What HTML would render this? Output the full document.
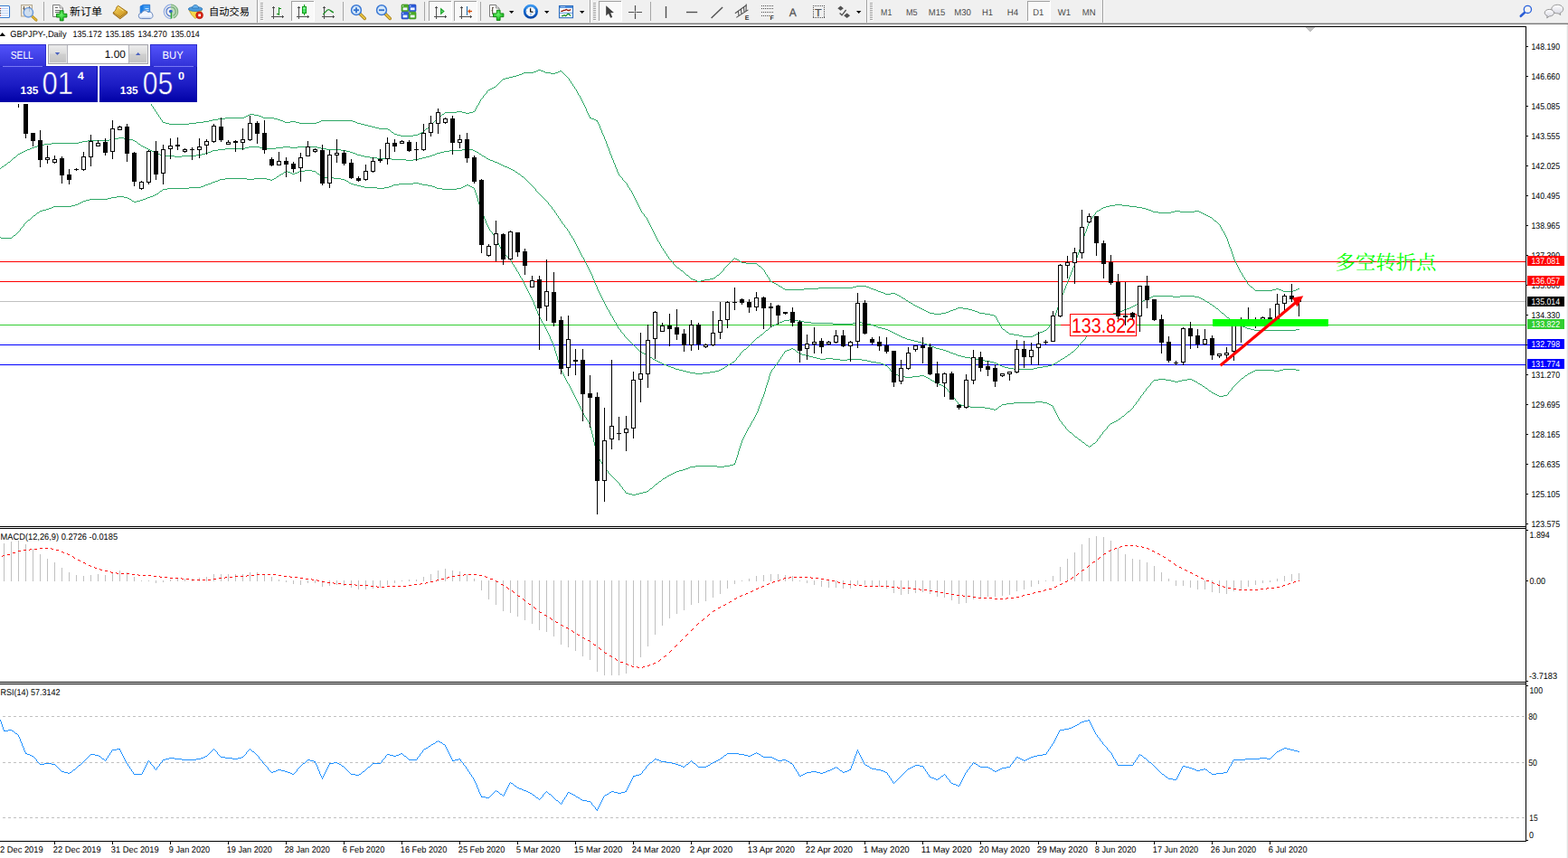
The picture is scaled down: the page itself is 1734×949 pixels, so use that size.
<!DOCTYPE html>
<html><head><meta charset="utf-8"><title>GBPJPY-,Daily</title>
<style>html,body{margin:0;padding:0;background:#fff;overflow:hidden}svg{display:block}text{font-family:"Liberation Sans",sans-serif;text-rendering:geometricPrecision}</style>
</head><body>
<svg width="1734" height="949" viewBox="0 0 1734 949"><g shape-rendering="crispEdges">
<rect x="0" y="29" width="1688" height="1" fill="#000"/>
<rect x="1687" y="29" width="1" height="902" fill="#000"/>
<rect x="0" y="582" width="1688" height="1" fill="#000"/>
<rect x="0" y="584" width="1688" height="1" fill="#000"/>
<rect x="0" y="754" width="1688" height="1" fill="#000"/>
<rect x="0" y="756" width="1688" height="1" fill="#000"/>
<rect x="0" y="930" width="1688" height="1" fill="#000"/>
<rect x="1733" y="27" width="1" height="922" fill="#e2e2e2"/>
<rect x="1732" y="27" width="1" height="922" fill="#f6f6f6"/>
<rect x="1688" y="51" width="2" height="1" fill="#000"/>
<rect x="1688" y="84" width="2" height="1" fill="#000"/>
<rect x="1688" y="117" width="2" height="1" fill="#000"/>
<rect x="1688" y="150" width="2" height="1" fill="#000"/>
<rect x="1688" y="183" width="2" height="1" fill="#000"/>
<rect x="1688" y="216" width="2" height="1" fill="#000"/>
<rect x="1688" y="249" width="2" height="1" fill="#000"/>
<rect x="1688" y="282" width="2" height="1" fill="#000"/>
<rect x="1688" y="315" width="2" height="1" fill="#000"/>
<rect x="1688" y="348" width="2" height="1" fill="#000"/>
<rect x="1688" y="381" width="2" height="1" fill="#000"/>
<rect x="1688" y="414" width="2" height="1" fill="#000"/>
<rect x="1688" y="447" width="2" height="1" fill="#000"/>
<rect x="1688" y="480" width="2" height="1" fill="#000"/>
<rect x="1688" y="513" width="2" height="1" fill="#000"/>
<rect x="1688" y="546" width="2" height="1" fill="#000"/>
<rect x="1688" y="579" width="2" height="1" fill="#000"/>
</g>
<g font-family="Liberation Sans, sans-serif" font-size="9.9">
<text x="1693.5" y="55.0" font-size="9.9" fill="#000" textLength="31.6" lengthAdjust="spacingAndGlyphs" >148.190</text>
<text x="1693.5" y="88.0" font-size="9.9" fill="#000" textLength="31.6" lengthAdjust="spacingAndGlyphs" >146.660</text>
<text x="1693.5" y="121.0" font-size="9.9" fill="#000" textLength="31.6" lengthAdjust="spacingAndGlyphs" >145.085</text>
<text x="1693.5" y="154.0" font-size="9.9" fill="#000" textLength="31.6" lengthAdjust="spacingAndGlyphs" >143.555</text>
<text x="1693.5" y="187.0" font-size="9.9" fill="#000" textLength="31.6" lengthAdjust="spacingAndGlyphs" >142.025</text>
<text x="1693.5" y="220.0" font-size="9.9" fill="#000" textLength="31.6" lengthAdjust="spacingAndGlyphs" >140.495</text>
<text x="1693.5" y="253.0" font-size="9.9" fill="#000" textLength="31.6" lengthAdjust="spacingAndGlyphs" >138.965</text>
<text x="1693.5" y="286.0" font-size="9.9" fill="#000" textLength="31.6" lengthAdjust="spacingAndGlyphs" >137.390</text>
<text x="1693.5" y="319.0" font-size="9.9" fill="#000" textLength="31.6" lengthAdjust="spacingAndGlyphs" >135.860</text>
<text x="1693.5" y="352.0" font-size="9.9" fill="#000" textLength="31.6" lengthAdjust="spacingAndGlyphs" >134.330</text>
<text x="1693.5" y="385.0" font-size="9.9" fill="#000" textLength="31.6" lengthAdjust="spacingAndGlyphs" >132.800</text>
<text x="1693.5" y="418.0" font-size="9.9" fill="#000" textLength="31.6" lengthAdjust="spacingAndGlyphs" >131.270</text>
<text x="1693.5" y="451.0" font-size="9.9" fill="#000" textLength="31.6" lengthAdjust="spacingAndGlyphs" >129.695</text>
<text x="1693.5" y="484.0" font-size="9.9" fill="#000" textLength="31.6" lengthAdjust="spacingAndGlyphs" >128.165</text>
<text x="1693.5" y="517.0" font-size="9.9" fill="#000" textLength="31.6" lengthAdjust="spacingAndGlyphs" >126.635</text>
<text x="1693.5" y="550.0" font-size="9.9" fill="#000" textLength="31.6" lengthAdjust="spacingAndGlyphs" >125.105</text>
<text x="1693.5" y="583.0" font-size="9.9" fill="#000" textLength="31.6" lengthAdjust="spacingAndGlyphs" >123.575</text>
</g>
<g shape-rendering="crispEdges">
<rect x="0" y="289" width="1687" height="1" fill="#ff0000"/>
<rect x="0" y="311" width="1687" height="1" fill="#ff0000"/>
<rect x="0" y="333" width="1687" height="1" fill="#c0c0c0"/>
<rect x="0" y="359" width="1687" height="1" fill="#32cd32"/>
<rect x="0" y="381" width="1687" height="1" fill="#0000ff"/>
<rect x="0" y="403" width="1687" height="1" fill="#0000ff"/>
</g>
<g shape-rendering="crispEdges">
<clipPath id="cm"><rect x="0" y="30" width="1687" height="552"/></clipPath>
<g clip-path="url(#cm)">
<path d="M0 108h1v2h-1zM1 107h1v1h-1zM2 105h1v2h-1zM3 103h1v2h-1zM4 102h1v1h-1zM5 100h1v2h-1zM6 99h1v1h-1zM7 97h1v2h-1zM8 96h1v1h-1zM9 94h1v2h-1zM10 93h1v1h-1zM11 91h1v2h-1zM12 90h1v1h-1zM13 89h2v1h-2zM15 88h1v1h-1zM16 87h1v1h-1zM17 86h2v1h-2zM19 85h1v1h-1zM20 84h5v1h-5zM25 85h8v1h-8zM33 86h6v1h-6zM39 87h4v1h-4zM43 88h14v1h-14zM57 89h24v1h-24zM81 90h8v1h-8zM89 91h8v1h-8zM97 90h24v1h-24zM121 89h8v1h-8zM129 88h16v1h-16zM145 87h4v1h-4zM149 88h1v2h-1zM150 90h1v2h-1zM151 92h1v2h-1zM152 94h1v2h-1zM153 96h1v2h-1zM154 98h1v2h-1zM155 100h1v2h-1zM156 102h1v1h-1zM157 103h1v1h-1zM158 104h1v1h-1zM159 105h1v1h-1zM160 106h1v2h-1zM161 108h1v1h-1zM162 109h1v1h-1zM163 110h1v1h-1zM164 111h1v1h-1zM165 112h1v2h-1zM166 114h1v1h-1zM167 115h1v2h-1zM168 117h1v1h-1zM169 118h1v2h-1zM170 120h1v1h-1zM171 121h1v2h-1zM172 123h1v1h-1zM173 124h1v2h-1zM174 126h1v1h-1zM175 127h1v2h-1zM176 129h1v1h-1zM177 130h1v2h-1zM178 132h1v1h-1zM179 133h1v2h-1zM180 135h3v1h-3zM183 136h4v1h-4zM187 137h22v1h-22zM209 136h8v1h-8zM217 135h8v1h-8zM225 134h6v1h-6zM231 133h4v1h-4zM235 132h6v1h-6zM241 131h8v1h-8zM249 130h21v1h-21zM270 129h2v1h-2zM272 128h2v1h-2zM274 127h2v1h-2zM276 126h5v1h-5zM281 127h5v1h-5zM286 128h3v1h-3zM289 129h2v1h-2zM291 130h12v1h-12zM303 131h4v1h-4zM307 132h3v1h-3zM310 133h3v1h-3zM313 134h2v1h-2zM315 135h6v1h-6zM321 134h6v1h-6zM327 135h4v1h-4zM331 136h19v1h-19zM350 135h3v1h-3zM353 134h2v1h-2zM355 133h35v1h-35zM390 134h3v1h-3zM393 135h2v1h-2zM395 136h4v1h-4zM399 137h4v1h-4zM403 138h4v1h-4zM407 139h4v1h-4zM411 140h4v1h-4zM415 141h4v1h-4zM419 142h10v1h-10zM429 143h2v1h-2zM431 144h1v1h-1zM432 145h1v1h-1zM433 146h2v1h-2zM435 147h1v1h-1zM436 148h3v1h-3zM439 149h4v1h-4zM443 150h14v1h-14zM457 149h5v1h-5zM462 148h2v1h-2zM464 147h2v1h-2zM466 146h2v1h-2zM468 145h1v1h-1zM469 144h1v1h-1zM470 143h1v1h-1zM471 142h2v1h-2zM473 141h1v1h-1zM474 140h1v1h-1zM475 139h1v1h-1zM476 138h1v1h-1zM477 137h1v1h-1zM478 136h1v1h-1zM479 135h1v1h-1zM480 134h1v1h-1zM481 133h1v1h-1zM482 132h1v1h-1zM483 131h1v1h-1zM484 130h1v1h-1zM485 129h2v1h-2zM487 128h1v1h-1zM488 127h1v1h-1zM489 126h2v1h-2zM491 125h1v1h-1zM492 124h13v1h-13zM505 123h6v1h-6zM511 124h4v1h-4zM515 125h4v1h-4zM519 124h4v1h-4zM523 123h2v1h-2zM525 121h1v2h-1zM526 119h1v2h-1zM527 117h1v2h-1zM528 116h1v1h-1zM529 114h1v2h-1zM530 112h1v2h-1zM531 110h1v2h-1zM532 109h1v1h-1zM533 108h1v1h-1zM534 106h1v2h-1zM535 105h1v1h-1zM536 104h1v1h-1zM537 103h1v1h-1zM538 101h1v2h-1zM539 100h1v1h-1zM540 99h2v1h-2zM542 98h2v1h-2zM544 97h2v1h-2zM546 96h2v1h-2zM548 95h1v1h-1zM549 94h1v1h-1zM550 93h1v1h-1zM551 92h1v1h-1zM552 91h1v1h-1zM553 90h1v1h-1zM554 89h1v1h-1zM555 88h1v1h-1zM556 87h3v1h-3zM559 86h4v1h-4zM563 85h4v1h-4zM567 84h4v1h-4zM571 83h3v1h-3zM574 82h3v1h-3zM577 81h2v1h-2zM579 80h11v1h-11zM590 79h3v1h-3zM593 78h2v1h-2zM595 77h3v1h-3zM598 78h3v1h-3zM601 79h2v1h-2zM603 80h6v1h-6zM609 81h5v1h-5zM614 80h3v1h-3zM617 79h2v1h-2zM619 78h2v1h-2zM621 79h1v1h-1zM622 80h1v1h-1zM623 81h1v1h-1zM624 82h1v1h-1zM625 83h1v1h-1zM626 84h1v1h-1zM627 85h1v1h-1zM628 86h1v1h-1zM629 87h1v2h-1zM630 89h1v1h-1zM631 90h1v2h-1zM632 92h1v1h-1zM633 93h1v2h-1zM634 95h1v1h-1zM635 96h1v2h-1zM636 98h1v1h-1zM637 99h1v2h-1zM638 101h1v2h-1zM639 103h1v2h-1zM640 105h1v1h-1zM641 106h1v2h-1zM642 108h1v2h-1zM643 110h1v2h-1zM644 112h1v2h-1zM645 114h1v2h-1zM646 116h1v2h-1zM647 118h1v2h-1zM648 120h1v3h-1zM649 123h1v2h-1zM650 125h1v2h-1zM651 127h1v2h-1zM652 129h1v2h-1zM653 130h1v1h-1zM654 131h3v1h-3zM657 132h2v1h-2zM659 133h2v1h-2zM660 134h1v1h-1zM661 135h1v2h-1zM662 137h1v2h-1zM663 139h1v3h-1zM664 142h1v2h-1zM665 144h1v3h-1zM666 147h1v2h-1zM667 149h1v2h-1zM668 151h1v3h-1zM669 154h1v2h-1zM670 156h1v3h-1zM671 159h1v3h-1zM672 162h1v2h-1zM673 164h1v3h-1zM674 167h1v3h-1zM675 170h1v2h-1zM676 172h1v3h-1zM677 175h1v2h-1zM678 177h1v3h-1zM679 180h1v2h-1zM680 182h1v3h-1zM681 185h1v2h-1zM682 187h1v3h-1zM683 190h1v2h-1zM684 192h1v2h-1zM685 194h1v1h-1zM686 195h1v1h-1zM687 196h1v1h-1zM688 197h1v2h-1zM689 199h1v1h-1zM690 200h1v1h-1zM691 201h1v1h-1zM692 202h1v1h-1zM693 203h1v2h-1zM694 205h1v2h-1zM695 207h1v1h-1zM696 208h1v2h-1zM697 210h1v1h-1zM698 211h1v2h-1zM699 213h1v2h-1zM700 215h1v2h-1zM701 217h1v2h-1zM702 219h1v2h-1zM703 221h1v2h-1zM704 223h1v2h-1zM705 225h1v2h-1zM706 227h1v2h-1zM707 229h1v2h-1zM708 231h1v2h-1zM709 233h1v2h-1zM710 235h1v1h-1zM711 236h1v1h-1zM712 237h1v2h-1zM713 239h1v1h-1zM714 240h1v1h-1zM715 241h1v2h-1zM716 243h1v2h-1zM717 245h1v2h-1zM718 247h1v2h-1zM719 249h1v2h-1zM720 251h1v2h-1zM721 253h1v2h-1zM722 255h1v2h-1zM723 257h1v2h-1zM724 259h1v2h-1zM725 261h1v2h-1zM726 263h1v2h-1zM727 265h1v2h-1zM728 267h1v1h-1zM729 268h1v2h-1zM730 270h1v2h-1zM731 272h1v2h-1zM732 274h1v1h-1zM733 275h1v2h-1zM734 277h1v1h-1zM735 278h1v2h-1zM736 280h1v1h-1zM737 281h1v2h-1zM738 283h1v1h-1zM739 284h1v2h-1zM740 286h1v1h-1zM741 287h1v1h-1zM742 288h1v1h-1zM743 289h1v1h-1zM744 290h1v2h-1zM745 292h1v1h-1zM746 293h1v1h-1zM747 294h1v1h-1zM748 295h1v1h-1zM749 296h2v1h-2zM751 297h1v1h-1zM752 298h1v1h-1zM753 299h2v1h-2zM755 300h1v1h-1zM756 301h1v1h-1zM757 302h1v1h-1zM758 303h1v1h-1zM759 304h2v1h-2zM761 305h1v1h-1zM762 306h1v1h-1zM763 307h1v1h-1zM764 308h2v1h-2zM766 309h3v1h-3zM769 310h2v1h-2zM771 311h4v1h-4zM775 310h4v1h-4zM779 309h6v1h-6zM785 308h4v1h-4zM789 307h2v1h-2zM791 306h1v1h-1zM792 305h1v1h-1zM793 304h2v1h-2zM795 303h1v1h-1zM796 302h1v1h-1zM797 301h1v1h-1zM798 300h1v1h-1zM799 299h1v1h-1zM800 297h1v2h-1zM801 296h1v1h-1zM802 295h1v1h-1zM803 294h1v1h-1zM804 293h1v1h-1zM805 292h1v1h-1zM806 291h1v1h-1zM807 290h1v1h-1zM808 289h1v1h-1zM809 288h1v1h-1zM810 287h1v1h-1zM811 286h1v1h-1zM812 285h1v1h-1zM813 286h2v1h-2zM815 287h2v1h-2zM817 288h1v1h-1zM818 289h2v1h-2zM820 290h5v1h-5zM825 291h12v1h-12zM837 292h1v1h-1zM838 293h1v1h-1zM839 294h2v1h-2zM841 295h1v1h-1zM842 296h1v1h-1zM843 297h1v1h-1zM844 298h1v1h-1zM845 299h1v2h-1zM846 301h1v2h-1zM847 303h1v1h-1zM848 304h1v2h-1zM849 306h1v1h-1zM850 307h1v2h-1zM851 309h1v2h-1zM852 311h2v1h-2zM854 312h2v1h-2zM856 313h2v1h-2zM858 314h2v1h-2zM860 315h1v1h-1zM861 316h2v1h-2zM863 317h2v1h-2zM865 318h1v1h-1zM866 319h2v1h-2zM868 320h21v1h-21zM889 319h16v1h-16zM905 318h38v1h-38zM943 317h4v1h-4zM947 316h11v1h-11zM958 317h3v1h-3zM961 318h2v1h-2zM963 319h3v1h-3zM966 320h3v1h-3zM969 321h2v1h-2zM971 322h3v1h-3zM974 323h3v1h-3zM977 324h2v1h-2zM979 325h6v1h-6zM985 324h5v1h-5zM990 325h2v1h-2zM992 326h2v1h-2zM994 327h2v1h-2zM996 328h1v1h-1zM997 329h2v1h-2zM999 330h2v1h-2zM1001 331h1v1h-1zM1002 332h2v1h-2zM1004 333h1v1h-1zM1005 334h2v1h-2zM1007 335h2v1h-2zM1009 336h1v1h-1zM1010 337h2v1h-2zM1012 338h2v1h-2zM1014 339h2v1h-2zM1016 340h2v1h-2zM1018 341h2v1h-2zM1020 342h2v1h-2zM1022 343h2v1h-2zM1024 344h2v1h-2zM1026 345h2v1h-2zM1028 346h5v1h-5zM1033 347h8v1h-8zM1041 346h5v1h-5zM1046 345h3v1h-3zM1049 344h2v1h-2zM1051 343h3v1h-3zM1054 342h3v1h-3zM1057 341h2v1h-2zM1059 340h6v1h-6zM1065 341h6v1h-6zM1071 342h4v1h-4zM1075 343h3v1h-3zM1078 344h3v1h-3zM1081 345h2v1h-2zM1083 346h6v1h-6zM1089 347h6v1h-6zM1095 348h4v1h-4zM1099 349h2v1h-2zM1101 350h1v2h-1zM1102 352h1v2h-1zM1103 354h1v2h-1zM1104 356h1v1h-1zM1105 357h1v2h-1zM1106 359h1v2h-1zM1107 361h1v2h-1zM1108 363h1v1h-1zM1109 364h2v1h-2zM1111 365h1v1h-1zM1112 366h1v1h-1zM1113 367h2v1h-2zM1115 368h1v1h-1zM1116 369h5v1h-5zM1121 370h6v1h-6zM1127 371h4v1h-4zM1131 372h11v1h-11zM1142 371h2v1h-2zM1144 370h2v1h-2zM1146 369h2v1h-2zM1148 368h2v1h-2zM1150 367h3v1h-3zM1153 366h2v1h-2zM1155 365h2v1h-2zM1157 364h1v1h-1zM1158 363h1v1h-1zM1159 362h1v1h-1zM1160 360h1v2h-1zM1161 359h1v1h-1zM1162 358h1v1h-1zM1163 357h1v1h-1zM1164 355h1v2h-1zM1165 352h1v3h-1zM1166 349h1v3h-1zM1167 346h1v3h-1zM1168 343h1v3h-1zM1169 340h1v3h-1zM1170 337h1v3h-1zM1171 334h1v3h-1zM1172 331h1v3h-1zM1173 329h1v2h-1zM1174 326h1v3h-1zM1175 324h1v2h-1zM1176 321h1v3h-1zM1177 319h1v2h-1zM1178 316h1v3h-1zM1179 314h1v2h-1zM1180 311h1v3h-1zM1181 309h1v2h-1zM1182 306h1v3h-1zM1183 304h1v2h-1zM1184 301h1v3h-1zM1185 299h1v2h-1zM1186 296h1v3h-1zM1187 294h1v2h-1zM1188 291h1v3h-1zM1189 288h1v3h-1zM1190 285h1v3h-1zM1191 282h1v3h-1zM1192 279h1v3h-1zM1193 276h1v3h-1zM1194 273h1v3h-1zM1195 270h1v3h-1zM1196 267h1v3h-1zM1197 264h1v3h-1zM1198 261h1v3h-1zM1199 258h1v3h-1zM1200 256h1v2h-1zM1201 253h1v3h-1zM1202 250h1v3h-1zM1203 247h1v3h-1zM1204 245h1v2h-1zM1205 243h1v2h-1zM1206 242h1v1h-1zM1207 241h1v1h-1zM1208 239h1v2h-1zM1209 238h1v1h-1zM1210 237h1v1h-1zM1211 235h1v2h-1zM1212 234h1v1h-1zM1213 233h2v1h-2zM1215 232h2v1h-2zM1217 231h1v1h-1zM1218 230h2v1h-2zM1220 229h3v1h-3zM1223 228h4v1h-4zM1227 227h6v1h-6zM1233 226h8v1h-8zM1241 227h8v1h-8zM1249 228h8v1h-8zM1257 229h6v1h-6zM1263 230h4v1h-4zM1267 231h3v1h-3zM1270 232h3v1h-3zM1273 233h2v1h-2zM1275 234h6v1h-6zM1281 235h14v1h-14zM1295 234h4v1h-4zM1299 233h6v1h-6zM1305 234h16v1h-16zM1321 233h5v1h-5zM1326 234h2v1h-2zM1328 235h2v1h-2zM1330 236h2v1h-2zM1332 237h2v1h-2zM1334 238h2v1h-2zM1336 239h2v1h-2zM1338 240h2v1h-2zM1340 241h1v1h-1zM1341 242h1v1h-1zM1342 243h1v1h-1zM1343 244h2v1h-2zM1345 245h1v1h-1zM1346 246h1v1h-1zM1347 247h1v1h-1zM1348 248h1v1h-1zM1349 249h1v2h-1zM1350 251h1v2h-1zM1351 253h1v2h-1zM1352 255h1v1h-1zM1353 256h1v2h-1zM1354 258h1v2h-1zM1355 260h1v2h-1zM1356 262h1v2h-1zM1357 264h1v3h-1zM1358 267h1v3h-1zM1359 270h1v3h-1zM1360 273h1v2h-1zM1361 275h1v3h-1zM1362 278h1v3h-1zM1363 281h1v3h-1zM1364 284h1v3h-1zM1365 287h1v2h-1zM1366 289h1v2h-1zM1367 291h1v2h-1zM1368 293h1v2h-1zM1369 295h1v2h-1zM1370 297h1v2h-1zM1371 299h1v2h-1zM1372 301h1v1h-1zM1373 302h1v2h-1zM1374 304h1v2h-1zM1375 306h1v1h-1zM1376 307h1v2h-1zM1377 309h1v1h-1zM1378 310h1v2h-1zM1379 312h1v2h-1zM1380 314h1v1h-1zM1381 315h1v1h-1zM1382 316h1v1h-1zM1383 317h2v1h-2zM1385 318h1v1h-1zM1386 319h1v1h-1zM1387 320h1v1h-1zM1388 321h19v1h-19zM1407 320h4v1h-4zM1411 319h3v1h-3zM1414 320h3v1h-3zM1417 321h2v1h-2zM1419 322h11v1h-11zM1430 321h3v1h-3zM1433 320h2v1h-2zM1435 319h2v1h-2zM0 186h1v1h-1zM1 185h1v1h-1zM2 184h2v1h-2zM4 183h1v1h-1zM5 182h2v1h-2zM7 181h1v1h-1zM8 180h1v1h-1zM9 179h2v1h-2zM11 178h1v1h-1zM12 177h1v1h-1zM13 176h1v1h-1zM14 175h1v1h-1zM15 174h2v1h-2zM17 173h1v1h-1zM18 172h1v1h-1zM19 171h1v1h-1zM20 170h2v1h-2zM22 169h2v1h-2zM24 168h2v1h-2zM26 167h2v1h-2zM28 166h2v1h-2zM30 165h3v1h-3zM33 164h2v1h-2zM35 163h3v1h-3zM38 162h3v1h-3zM41 161h2v1h-2zM43 160h6v1h-6zM49 159h8v1h-8zM57 158h30v1h-30zM87 157h4v1h-4zM91 156h6v1h-6zM97 155h24v1h-24zM121 154h6v1h-6zM127 153h4v1h-4zM131 152h6v1h-6zM137 153h6v1h-6zM143 154h4v1h-4zM147 155h2v1h-2zM149 156h2v1h-2zM151 157h1v1h-1zM152 158h1v1h-1zM153 159h2v1h-2zM155 160h1v1h-1zM156 161h2v1h-2zM158 162h2v1h-2zM160 163h2v1h-2zM162 164h2v1h-2zM164 165h2v1h-2zM166 166h2v1h-2zM168 167h2v1h-2zM170 168h2v1h-2zM172 169h2v1h-2zM174 170h3v1h-3zM177 171h2v1h-2zM179 172h14v1h-14zM193 173h8v1h-8zM201 172h16v1h-16zM217 171h6v1h-6zM223 170h4v1h-4zM227 169h3v1h-3zM230 168h3v1h-3zM233 167h2v1h-2zM235 166h6v1h-6zM241 165h8v1h-8zM249 164h22v1h-22zM271 163h4v1h-4zM275 162h12v1h-12zM287 163h4v1h-4zM291 164h14v1h-14zM305 163h8v1h-8zM313 162h8v1h-8zM321 163h8v1h-8zM329 162h22v1h-22zM351 163h4v1h-4zM355 164h6v1h-6zM361 165h16v1h-16zM377 166h6v1h-6zM383 167h4v1h-4zM387 168h3v1h-3zM390 169h3v1h-3zM393 170h2v1h-2zM395 171h4v1h-4zM399 172h4v1h-4zM403 173h6v1h-6zM409 174h8v1h-8zM417 175h16v1h-16zM433 176h16v1h-16zM449 177h8v1h-8zM457 176h6v1h-6zM463 175h4v1h-4zM467 174h4v1h-4zM471 173h4v1h-4zM475 172h3v1h-3zM478 171h3v1h-3zM481 170h2v1h-2zM483 169h4v1h-4zM487 168h4v1h-4zM491 167h6v1h-6zM497 166h14v1h-14zM511 165h4v1h-4zM515 164h4v1h-4zM519 165h4v1h-4zM523 166h2v1h-2zM525 167h2v1h-2zM527 168h2v1h-2zM529 169h1v1h-1zM530 170h2v1h-2zM532 171h1v1h-1zM533 172h2v1h-2zM535 173h2v1h-2zM537 174h1v1h-1zM538 175h2v1h-2zM540 176h2v1h-2zM542 177h3v1h-3zM545 178h2v1h-2zM547 179h3v1h-3zM550 180h2v1h-2zM552 181h2v1h-2zM554 182h2v1h-2zM556 183h2v1h-2zM558 184h3v1h-3zM561 185h2v1h-2zM563 186h2v1h-2zM565 187h2v1h-2zM567 188h2v1h-2zM569 189h1v1h-1zM570 190h2v1h-2zM572 191h1v1h-1zM573 192h2v1h-2zM575 193h1v1h-1zM576 194h1v1h-1zM577 195h2v1h-2zM579 196h1v1h-1zM580 197h1v1h-1zM581 198h1v1h-1zM582 199h1v1h-1zM583 200h1v1h-1zM584 201h1v1h-1zM585 202h1v1h-1zM586 203h1v1h-1zM587 204h1v1h-1zM588 205h1v1h-1zM589 206h1v1h-1zM590 207h1v1h-1zM591 208h1v1h-1zM592 209h1v2h-1zM593 211h1v1h-1zM594 212h1v1h-1zM595 213h1v1h-1zM596 214h1v1h-1zM597 215h1v1h-1zM598 216h1v1h-1zM599 217h1v1h-1zM600 218h1v1h-1zM601 219h1v1h-1zM602 220h1v1h-1zM603 221h1v1h-1zM604 222h1v1h-1zM605 223h1v1h-1zM606 224h1v2h-1zM607 226h1v1h-1zM608 227h1v1h-1zM609 228h1v1h-1zM610 229h1v2h-1zM611 231h1v1h-1zM612 232h1v1h-1zM613 233h1v2h-1zM614 235h1v1h-1zM615 236h1v2h-1zM616 238h1v1h-1zM617 239h1v2h-1zM618 241h1v1h-1zM619 242h1v2h-1zM620 244h1v1h-1zM621 245h1v2h-1zM622 247h1v1h-1zM623 248h1v1h-1zM624 249h1v2h-1zM625 251h1v1h-1zM626 252h1v1h-1zM627 253h1v2h-1zM628 255h1v1h-1zM629 256h1v2h-1zM630 258h1v2h-1zM631 260h1v1h-1zM632 261h1v2h-1zM633 263h1v1h-1zM634 264h1v2h-1zM635 266h1v2h-1zM636 268h1v2h-1zM637 270h1v2h-1zM638 272h1v2h-1zM639 274h1v2h-1zM640 276h1v2h-1zM641 278h1v2h-1zM642 280h1v2h-1zM643 282h1v2h-1zM644 284h1v1h-1zM645 285h1v2h-1zM646 287h1v2h-1zM647 289h1v2h-1zM648 291h1v2h-1zM649 293h1v2h-1zM650 295h1v2h-1zM651 297h1v2h-1zM652 299h1v2h-1zM653 301h1v2h-1zM654 303h1v2h-1zM655 305h1v3h-1zM656 308h1v2h-1zM657 310h1v3h-1zM658 313h1v2h-1zM659 315h1v2h-1zM660 317h1v3h-1zM661 320h1v2h-1zM662 322h1v2h-1zM663 324h1v2h-1zM664 326h1v2h-1zM665 328h1v2h-1zM666 330h1v2h-1zM667 332h1v2h-1zM668 334h1v2h-1zM669 336h1v2h-1zM670 338h1v2h-1zM671 340h1v2h-1zM672 342h1v1h-1zM673 343h1v2h-1zM674 345h1v2h-1zM675 347h1v2h-1zM676 349h1v1h-1zM677 350h1v2h-1zM678 352h1v2h-1zM679 354h1v2h-1zM680 356h1v1h-1zM681 357h1v2h-1zM682 359h1v2h-1zM683 361h1v2h-1zM684 363h1v1h-1zM685 364h1v1h-1zM686 365h1v2h-1zM687 367h1v1h-1zM688 368h1v1h-1zM689 369h1v1h-1zM690 370h1v2h-1zM691 372h1v1h-1zM692 373h1v1h-1zM693 374h1v1h-1zM694 375h1v1h-1zM695 376h1v1h-1zM696 377h1v1h-1zM697 378h1v1h-1zM698 379h1v1h-1zM699 380h1v1h-1zM700 381h1v1h-1zM701 382h1v1h-1zM702 383h1v1h-1zM703 384h1v1h-1zM704 385h1v1h-1zM705 386h1v1h-1zM706 387h1v1h-1zM707 388h1v1h-1zM708 389h2v1h-2zM710 390h2v1h-2zM712 391h2v1h-2zM714 392h2v1h-2zM716 393h1v1h-1zM717 394h2v1h-2zM719 395h2v1h-2zM721 396h1v1h-1zM722 397h2v1h-2zM724 398h2v1h-2zM726 399h2v1h-2zM728 400h2v1h-2zM730 401h2v1h-2zM732 402h2v1h-2zM734 403h3v1h-3zM737 404h2v1h-2zM739 405h3v1h-3zM742 406h3v1h-3zM745 407h2v1h-2zM747 408h4v1h-4zM751 409h4v1h-4zM755 410h4v1h-4zM759 411h4v1h-4zM763 412h6v1h-6zM769 413h8v1h-8zM777 412h8v1h-8zM785 411h6v1h-6zM791 410h4v1h-4zM795 409h2v1h-2zM797 408h2v1h-2zM799 407h2v1h-2zM801 406h1v1h-1zM802 405h2v1h-2zM804 404h1v1h-1zM805 403h2v1h-2zM807 402h2v1h-2zM809 401h1v1h-1zM810 400h2v1h-2zM812 399h1v1h-1zM813 398h1v1h-1zM814 396h1v2h-1zM815 395h1v1h-1zM816 394h1v1h-1zM817 393h1v1h-1zM818 391h1v2h-1zM819 390h1v1h-1zM820 389h1v1h-1zM821 388h1v1h-1zM822 387h1v1h-1zM823 386h2v1h-2zM825 385h1v1h-1zM826 384h1v1h-1zM827 383h1v1h-1zM828 382h1v1h-1zM829 381h1v1h-1zM830 380h1v1h-1zM831 379h1v1h-1zM832 378h1v1h-1zM833 377h1v1h-1zM834 376h1v1h-1zM835 375h1v1h-1zM836 374h1v1h-1zM837 373h2v1h-2zM839 372h1v1h-1zM840 371h1v1h-1zM841 370h2v1h-2zM843 369h1v1h-1zM844 368h1v1h-1zM845 367h1v1h-1zM846 366h1v1h-1zM847 365h2v1h-2zM849 364h1v1h-1zM850 363h1v1h-1zM851 362h1v1h-1zM852 361h2v1h-2zM854 360h2v1h-2zM856 359h2v1h-2zM858 358h2v1h-2zM860 357h2v1h-2zM862 356h3v1h-3zM865 355h2v1h-2zM867 354h6v1h-6zM873 353h6v1h-6zM879 354h4v1h-4zM883 355h6v1h-6zM889 356h8v1h-8zM897 357h24v1h-24zM921 358h22v1h-22zM943 357h4v1h-4zM947 356h6v1h-6zM953 357h6v1h-6zM959 358h4v1h-4zM963 359h3v1h-3zM966 360h3v1h-3zM969 361h2v1h-2zM971 362h4v1h-4zM975 363h4v1h-4zM979 364h3v1h-3zM982 365h2v1h-2zM984 366h2v1h-2zM986 367h2v1h-2zM988 368h2v1h-2zM990 369h2v1h-2zM992 370h2v1h-2zM994 371h2v1h-2zM996 372h2v1h-2zM998 373h3v1h-3zM1001 374h2v1h-2zM1003 375h4v1h-4zM1007 376h4v1h-4zM1011 377h4v1h-4zM1015 378h4v1h-4zM1019 379h3v1h-3zM1022 380h3v1h-3zM1025 381h2v1h-2zM1027 382h3v1h-3zM1030 383h3v1h-3zM1033 384h2v1h-2zM1035 385h4v1h-4zM1039 386h4v1h-4zM1043 387h3v1h-3zM1046 388h3v1h-3zM1049 389h2v1h-2zM1051 390h3v1h-3zM1054 391h3v1h-3zM1057 392h2v1h-2zM1059 393h4v1h-4zM1063 394h4v1h-4zM1067 395h6v1h-6zM1073 396h6v1h-6zM1079 397h4v1h-4zM1083 398h6v1h-6zM1089 399h6v1h-6zM1095 400h4v1h-4zM1099 401h3v1h-3zM1102 402h2v1h-2zM1104 403h2v1h-2zM1106 404h2v1h-2zM1108 405h3v1h-3zM1111 406h4v1h-4zM1115 407h6v1h-6zM1121 408h22v1h-22zM1143 407h4v1h-4zM1147 406h6v1h-6zM1153 405h6v1h-6zM1159 404h4v1h-4zM1163 403h2v1h-2zM1165 402h2v1h-2zM1167 401h2v1h-2zM1169 400h1v1h-1zM1170 399h2v1h-2zM1172 398h1v1h-1zM1173 397h2v1h-2zM1175 396h2v1h-2zM1177 395h1v1h-1zM1178 394h2v1h-2zM1180 393h1v1h-1zM1181 392h2v1h-2zM1183 391h1v1h-1zM1184 390h1v1h-1zM1185 389h2v1h-2zM1187 388h1v1h-1zM1188 387h1v1h-1zM1189 386h1v1h-1zM1190 385h1v1h-1zM1191 384h1v1h-1zM1192 382h1v2h-1zM1193 381h1v1h-1zM1194 380h1v1h-1zM1195 379h1v1h-1zM1196 378h1v1h-1zM1197 377h1v1h-1zM1198 376h1v1h-1zM1199 375h1v1h-1zM1200 373h1v2h-1zM1201 372h1v1h-1zM1202 371h1v1h-1zM1203 370h1v1h-1zM1204 369h1v1h-1zM1205 368h1v1h-1zM1206 367h1v1h-1zM1207 366h1v1h-1zM1208 365h1v1h-1zM1209 364h1v1h-1zM1210 363h1v1h-1zM1211 362h1v1h-1zM1212 361h1v1h-1zM1213 360h1v1h-1zM1214 359h1v1h-1zM1215 358h1v1h-1zM1216 357h1v1h-1zM1217 356h1v1h-1zM1218 355h1v1h-1zM1219 354h1v1h-1zM1220 353h1v1h-1zM1221 352h2v1h-2zM1223 351h1v1h-1zM1224 350h1v1h-1zM1225 349h2v1h-2zM1227 348h1v1h-1zM1228 347h3v1h-3zM1231 346h4v1h-4zM1235 345h3v1h-3zM1238 344h3v1h-3zM1241 343h2v1h-2zM1243 342h3v1h-3zM1246 341h3v1h-3zM1249 340h2v1h-2zM1251 339h2v1h-2zM1253 338h2v1h-2zM1255 337h2v1h-2zM1257 336h1v1h-1zM1258 335h2v1h-2zM1260 334h2v1h-2zM1262 333h2v1h-2zM1264 332h2v1h-2zM1266 331h2v1h-2zM1268 330h2v1h-2zM1270 329h3v1h-3zM1273 328h2v1h-2zM1275 327h22v1h-22zM1297 328h8v1h-8zM1305 327h16v1h-16zM1321 328h5v1h-5zM1326 329h2v1h-2zM1328 330h2v1h-2zM1330 331h2v1h-2zM1332 332h1v1h-1zM1333 333h2v1h-2zM1335 334h2v1h-2zM1337 335h1v1h-1zM1338 336h2v1h-2zM1340 337h1v1h-1zM1341 338h2v1h-2zM1343 339h1v1h-1zM1344 340h1v1h-1zM1345 341h2v1h-2zM1347 342h1v1h-1zM1348 343h1v1h-1zM1349 344h1v1h-1zM1350 345h1v1h-1zM1351 346h2v1h-2zM1353 347h1v1h-1zM1354 348h1v1h-1zM1355 349h1v1h-1zM1356 350h1v1h-1zM1357 351h2v1h-2zM1359 352h1v1h-1zM1360 353h1v1h-1zM1361 354h2v1h-2zM1363 355h1v1h-1zM1364 356h2v1h-2zM1366 357h2v1h-2zM1368 358h2v1h-2zM1370 359h2v1h-2zM1372 360h2v1h-2zM1374 361h3v1h-3zM1377 362h2v1h-2zM1379 363h4v1h-4zM1383 364h4v1h-4zM1387 365h46v1h-46zM1433 364h4v1h-4zM0 262h1v1h-1zM1 263h12v1h-12zM13 262h1v1h-1zM14 261h1v1h-1zM15 260h2v1h-2zM17 259h1v1h-1zM18 258h1v1h-1zM19 257h1v1h-1zM20 256h1v1h-1zM21 255h1v1h-1zM22 253h1v2h-1zM23 252h1v1h-1zM24 251h1v1h-1zM25 250h1v1h-1zM26 248h1v2h-1zM27 247h1v1h-1zM28 246h1v1h-1zM29 245h1v1h-1zM30 244h1v1h-1zM31 243h2v1h-2zM33 242h1v1h-1zM34 241h1v1h-1zM35 240h1v1h-1zM36 239h1v1h-1zM37 238h2v1h-2zM39 237h1v1h-1zM40 236h1v1h-1zM41 235h2v1h-2zM43 234h1v1h-1zM44 233h3v1h-3zM47 232h4v1h-4zM51 231h3v1h-3zM54 230h3v1h-3zM57 229h2v1h-2zM59 228h20v1h-20zM79 227h4v1h-4zM83 226h3v1h-3zM86 225h2v1h-2zM88 224h2v1h-2zM90 223h2v1h-2zM92 222h3v1h-3zM95 221h4v1h-4zM99 220h20v1h-20zM119 219h4v1h-4zM123 218h6v1h-6zM129 217h8v1h-8zM137 218h4v1h-4zM141 219h2v1h-2zM143 220h2v1h-2zM145 221h1v1h-1zM146 222h2v1h-2zM148 223h3v1h-3zM151 222h4v1h-4zM155 221h3v1h-3zM158 220h3v1h-3zM161 219h2v1h-2zM163 218h3v1h-3zM166 217h3v1h-3zM169 216h2v1h-2zM171 215h2v1h-2zM173 214h2v1h-2zM175 213h1v1h-1zM176 212h1v1h-1zM177 211h2v1h-2zM179 210h1v1h-1zM180 209h5v1h-5zM185 208h24v1h-24zM209 207h13v1h-13zM222 206h3v1h-3zM225 205h2v1h-2zM227 204h3v1h-3zM230 203h3v1h-3zM233 202h2v1h-2zM235 201h3v1h-3zM238 200h3v1h-3zM241 199h2v1h-2zM243 198h6v1h-6zM249 197h24v1h-24zM273 198h8v1h-8zM281 197h14v1h-14zM295 198h4v1h-4zM299 199h2v1h-2zM301 198h2v1h-2zM303 197h2v1h-2zM305 196h1v1h-1zM306 195h2v1h-2zM308 194h1v1h-1zM309 193h2v1h-2zM311 192h2v1h-2zM313 191h1v1h-1zM314 190h2v1h-2zM316 189h2v1h-2zM318 190h3v1h-3zM321 191h2v1h-2zM323 192h3v1h-3zM326 191h3v1h-3zM329 190h2v1h-2zM331 189h6v1h-6zM337 188h8v1h-8zM345 189h4v1h-4zM349 190h1v1h-1zM350 191h1v1h-1zM351 192h2v1h-2zM353 193h1v1h-1zM354 194h1v1h-1zM355 195h1v1h-1zM356 196h13v1h-13zM369 197h8v1h-8zM377 198h4v1h-4zM381 199h2v1h-2zM383 200h2v1h-2zM385 201h1v1h-1zM386 202h2v1h-2zM388 203h3v1h-3zM391 204h4v1h-4zM395 205h4v1h-4zM399 206h4v1h-4zM403 207h14v1h-14zM417 208h8v1h-8zM425 207h5v1h-5zM430 206h3v1h-3zM433 205h2v1h-2zM435 204h6v1h-6zM441 203h16v1h-16zM457 202h6v1h-6zM463 203h4v1h-4zM467 204h6v1h-6zM473 205h5v1h-5zM478 206h3v1h-3zM481 207h2v1h-2zM483 208h6v1h-6zM489 209h16v1h-16zM505 208h5v1h-5zM510 207h2v1h-2zM512 206h2v1h-2zM514 205h2v1h-2zM516 204h2v1h-2zM518 205h2v1h-2zM520 206h2v1h-2zM522 207h2v1h-2zM524 208h1v2h-1zM525 210h1v3h-1zM526 213h1v3h-1zM527 216h1v3h-1zM528 219h1v4h-1zM529 223h1v3h-1zM530 226h1v3h-1zM531 229h1v3h-1zM532 232h1v3h-1zM533 235h1v2h-1zM534 237h1v2h-1zM535 239h1v3h-1zM536 242h1v2h-1zM537 244h1v3h-1zM538 247h1v2h-1zM539 249h1v2h-1zM540 251h1v2h-1zM541 253h1v2h-1zM542 255h1v1h-1zM543 256h1v1h-1zM544 257h1v2h-1zM545 259h1v1h-1zM546 260h1v1h-1zM547 261h1v2h-1zM548 263h1v2h-1zM549 265h1v2h-1zM550 267h1v2h-1zM551 269h1v2h-1zM552 271h1v2h-1zM553 273h1v2h-1zM554 275h1v2h-1zM555 277h1v2h-1zM556 279h1v1h-1zM557 280h1v1h-1zM558 281h1v1h-1zM559 282h1v1h-1zM560 283h1v1h-1zM561 284h1v1h-1zM562 285h1v1h-1zM563 286h1v1h-1zM564 287h1v1h-1zM565 288h1v2h-1zM566 290h1v2h-1zM567 292h1v1h-1zM568 293h1v2h-1zM569 295h1v1h-1zM570 296h1v2h-1zM571 298h1v2h-1zM572 300h1v1h-1zM573 301h1v2h-1zM574 303h1v2h-1zM575 305h1v2h-1zM576 307h1v1h-1zM577 308h1v2h-1zM578 310h1v2h-1zM579 312h1v2h-1zM580 314h1v2h-1zM581 316h1v2h-1zM582 318h1v2h-1zM583 320h1v2h-1zM584 322h1v2h-1zM585 324h1v2h-1zM586 326h1v2h-1zM587 328h1v2h-1zM588 330h1v2h-1zM589 332h1v2h-1zM590 334h1v3h-1zM591 337h1v2h-1zM592 339h1v3h-1zM593 342h1v2h-1zM594 344h1v3h-1zM595 347h1v2h-1zM596 349h1v2h-1zM597 351h1v2h-1zM598 353h1v2h-1zM599 355h1v2h-1zM600 357h1v1h-1zM601 358h1v2h-1zM602 360h1v2h-1zM603 362h1v2h-1zM604 364h1v2h-1zM605 366h1v2h-1zM606 368h1v2h-1zM607 370h1v2h-1zM608 372h1v3h-1zM609 375h1v2h-1zM610 377h1v2h-1zM611 379h1v2h-1zM612 381h1v3h-1zM613 384h1v4h-1zM614 388h1v3h-1zM615 391h1v3h-1zM616 394h1v4h-1zM617 398h1v3h-1zM618 401h1v3h-1zM619 404h1v4h-1zM620 408h1v2h-1zM621 410h1v2h-1zM622 412h1v2h-1zM623 414h1v2h-1zM624 416h1v2h-1zM625 418h1v2h-1zM626 420h1v2h-1zM627 422h1v2h-1zM628 424h1v1h-1zM629 425h1v2h-1zM630 427h1v2h-1zM631 429h1v2h-1zM632 431h1v2h-1zM633 433h1v2h-1zM634 435h1v2h-1zM635 437h1v2h-1zM636 439h1v2h-1zM637 441h1v2h-1zM638 443h1v2h-1zM639 445h1v2h-1zM640 447h1v2h-1zM641 449h1v2h-1zM642 451h1v2h-1zM643 453h1v2h-1zM644 455h1v2h-1zM645 457h1v2h-1zM646 459h1v2h-1zM647 461h1v1h-1zM648 462h1v2h-1zM649 464h1v1h-1zM650 465h1v2h-1zM651 467h1v2h-1zM652 469h1v3h-1zM653 472h1v4h-1zM654 476h1v4h-1zM655 480h1v4h-1zM656 484h1v5h-1zM657 489h1v4h-1zM658 493h1v4h-1zM659 497h1v4h-1zM660 501h1v3h-1zM661 504h1v2h-1zM662 506h1v2h-1zM663 508h1v2h-1zM664 510h1v1h-1zM665 511h1v2h-1zM666 513h1v2h-1zM667 515h1v2h-1zM668 517h1v1h-1zM669 518h1v1h-1zM670 519h1v1h-1zM671 520h1v1h-1zM672 521h1v2h-1zM673 523h1v1h-1zM674 524h1v1h-1zM675 525h1v1h-1zM676 526h1v1h-1zM677 527h1v1h-1zM678 528h1v1h-1zM679 529h1v1h-1zM680 530h1v1h-1zM681 531h1v1h-1zM682 532h1v1h-1zM683 533h1v1h-1zM684 534h1v1h-1zM685 535h1v2h-1zM686 537h1v1h-1zM687 538h1v1h-1zM688 539h1v2h-1zM689 541h1v1h-1zM690 542h1v1h-1zM691 543h1v2h-1zM692 545h3v1h-3zM695 546h4v1h-4zM699 547h4v1h-4zM703 546h4v1h-4zM707 545h4v1h-4zM711 544h4v1h-4zM715 543h2v1h-2zM717 542h1v1h-1zM718 541h1v1h-1zM719 540h2v1h-2zM721 539h1v1h-1zM722 538h1v1h-1zM723 537h1v1h-1zM724 536h1v1h-1zM725 535h2v1h-2zM727 534h1v1h-1zM728 533h1v1h-1zM729 532h2v1h-2zM731 531h1v1h-1zM732 530h1v1h-1zM733 529h2v1h-2zM735 528h2v1h-2zM737 527h1v1h-1zM738 526h2v1h-2zM740 525h2v1h-2zM742 524h2v1h-2zM744 523h2v1h-2zM746 522h2v1h-2zM748 521h3v1h-3zM751 520h4v1h-4zM755 519h3v1h-3zM758 518h3v1h-3zM761 517h2v1h-2zM763 516h6v1h-6zM769 515h24v1h-24zM793 516h8v1h-8zM801 515h6v1h-6zM807 514h4v1h-4zM811 513h2v1h-2zM812 512h1v1h-1zM813 509h1v3h-1zM814 506h1v3h-1zM815 503h1v3h-1zM816 499h1v4h-1zM817 496h1v3h-1zM818 493h1v3h-1zM819 490h1v3h-1zM820 487h1v3h-1zM821 485h1v2h-1zM822 483h1v2h-1zM823 481h1v2h-1zM824 479h1v2h-1zM825 477h1v2h-1zM826 475h1v2h-1zM827 473h1v2h-1zM828 472h1v1h-1zM829 470h1v2h-1zM830 468h1v2h-1zM831 466h1v2h-1zM832 465h1v1h-1zM833 463h1v2h-1zM834 461h1v2h-1zM835 459h1v2h-1zM836 457h1v2h-1zM837 455h1v2h-1zM838 452h1v3h-1zM839 449h1v3h-1zM840 447h1v2h-1zM841 444h1v3h-1zM842 441h1v3h-1zM843 439h1v2h-1zM844 436h1v3h-1zM845 433h1v3h-1zM846 429h1v4h-1zM847 426h1v3h-1zM848 423h1v3h-1zM849 420h1v3h-1zM850 416h1v4h-1zM851 413h1v3h-1zM852 411h1v2h-1zM853 409h1v2h-1zM854 408h1v1h-1zM855 407h1v1h-1zM856 405h1v2h-1zM857 404h1v1h-1zM858 403h1v1h-1zM859 401h1v2h-1zM860 400h1v1h-1zM861 398h1v2h-1zM862 397h1v1h-1zM863 395h1v2h-1zM864 394h1v1h-1zM865 392h1v2h-1zM866 391h1v1h-1zM867 389h1v2h-1zM868 388h2v1h-2zM870 387h3v1h-3zM873 386h2v1h-2zM875 385h2v1h-2zM877 386h2v1h-2zM879 387h1v1h-1zM880 388h1v1h-1zM881 389h2v1h-2zM883 390h1v1h-1zM884 391h3v1h-3zM887 392h4v1h-4zM891 393h4v1h-4zM895 394h4v1h-4zM899 395h4v1h-4zM903 396h4v1h-4zM907 397h6v1h-6zM913 396h8v1h-8zM921 397h8v1h-8zM929 398h8v1h-8zM937 397h16v1h-16zM953 398h6v1h-6zM959 399h4v1h-4zM963 400h6v1h-6zM969 401h5v1h-5zM974 402h3v1h-3zM977 403h2v1h-2zM979 404h2v1h-2zM981 405h1v1h-1zM982 406h1v1h-1zM983 407h1v1h-1zM984 408h1v2h-1zM985 410h1v1h-1zM986 411h1v1h-1zM987 412h1v1h-1zM988 413h2v1h-2zM990 414h3v1h-3zM993 415h2v1h-2zM995 416h6v1h-6zM1001 417h8v1h-8zM1009 416h8v1h-8zM1017 415h5v1h-5zM1022 416h2v1h-2zM1024 417h2v1h-2zM1026 418h2v1h-2zM1028 419h1v1h-1zM1029 420h2v1h-2zM1031 421h2v1h-2zM1033 422h1v1h-1zM1034 423h2v1h-2zM1036 424h2v1h-2zM1038 425h3v1h-3zM1041 426h2v1h-2zM1043 427h2v1h-2zM1045 428h1v1h-1zM1046 429h1v1h-1zM1047 430h1v1h-1zM1048 431h1v2h-1zM1049 433h1v1h-1zM1050 434h1v1h-1zM1051 435h1v1h-1zM1052 436h1v1h-1zM1053 437h1v2h-1zM1054 439h1v1h-1zM1055 440h1v1h-1zM1056 441h1v2h-1zM1057 443h1v1h-1zM1058 444h1v1h-1zM1059 445h1v2h-1zM1060 447h3v1h-3zM1063 448h4v1h-4zM1067 449h6v1h-6zM1073 450h16v1h-16zM1089 451h6v1h-6zM1095 452h4v1h-4zM1099 453h2v1h-2zM1101 452h2v1h-2zM1103 451h1v1h-1zM1104 450h1v1h-1zM1105 449h2v1h-2zM1107 448h1v1h-1zM1108 447h5v1h-5zM1113 446h8v1h-8zM1121 445h24v1h-24zM1145 444h8v1h-8zM1153 445h5v1h-5zM1158 446h2v1h-2zM1160 447h2v1h-2zM1162 448h2v1h-2zM1164 449h1v2h-1zM1165 451h1v2h-1zM1166 453h1v2h-1zM1167 455h1v2h-1zM1168 457h1v2h-1zM1169 459h1v2h-1zM1170 461h1v2h-1zM1171 463h1v2h-1zM1172 465h1v1h-1zM1173 466h1v1h-1zM1174 467h1v2h-1zM1175 469h1v1h-1zM1176 470h1v1h-1zM1177 471h1v1h-1zM1178 472h1v2h-1zM1179 474h1v1h-1zM1180 475h1v1h-1zM1181 476h1v1h-1zM1182 477h1v1h-1zM1183 478h2v1h-2zM1185 479h1v1h-1zM1186 480h1v1h-1zM1187 481h1v1h-1zM1188 482h1v1h-1zM1189 483h2v1h-2zM1191 484h1v1h-1zM1192 485h1v1h-1zM1193 486h2v1h-2zM1195 487h1v1h-1zM1196 488h1v1h-1zM1197 489h2v1h-2zM1199 490h1v1h-1zM1200 491h1v1h-1zM1201 492h2v1h-2zM1203 493h1v1h-1zM1204 494h1v1h-1zM1205 493h2v1h-2zM1207 492h1v1h-1zM1208 491h1v1h-1zM1209 490h2v1h-2zM1211 489h1v1h-1zM1212 488h1v1h-1zM1213 486h1v2h-1zM1214 485h1v1h-1zM1215 484h1v1h-1zM1216 482h1v2h-1zM1217 481h1v1h-1zM1218 480h1v1h-1zM1219 478h1v2h-1zM1220 477h1v1h-1zM1221 476h1v1h-1zM1222 475h1v1h-1zM1223 474h1v1h-1zM1224 472h1v2h-1zM1225 471h1v1h-1zM1226 470h1v1h-1zM1227 469h1v1h-1zM1228 468h2v1h-2zM1230 467h2v1h-2zM1232 466h2v1h-2zM1234 465h2v1h-2zM1236 464h1v1h-1zM1237 463h2v1h-2zM1239 462h1v1h-1zM1240 461h1v1h-1zM1241 460h2v1h-2zM1243 459h1v1h-1zM1244 458h1v1h-1zM1245 457h1v1h-1zM1246 456h1v1h-1zM1247 455h2v1h-2zM1249 454h1v1h-1zM1250 453h1v1h-1zM1251 452h1v1h-1zM1252 451h1v1h-1zM1253 449h1v2h-1zM1254 448h1v1h-1zM1255 447h1v1h-1zM1256 445h1v2h-1zM1257 444h1v1h-1zM1258 443h1v1h-1zM1259 441h1v2h-1zM1260 440h1v1h-1zM1261 438h1v2h-1zM1262 437h1v1h-1zM1263 436h1v1h-1zM1264 434h1v2h-1zM1265 433h1v1h-1zM1266 432h1v1h-1zM1267 430h1v2h-1zM1268 429h1v1h-1zM1269 428h1v1h-1zM1270 427h1v1h-1zM1271 426h1v1h-1zM1272 424h1v2h-1zM1273 423h1v1h-1zM1274 422h1v1h-1zM1275 421h1v1h-1zM1276 420h5v1h-5zM1281 419h8v1h-8zM1289 420h6v1h-6zM1295 421h4v1h-4zM1299 422h4v1h-4zM1303 421h4v1h-4zM1307 420h6v1h-6zM1313 419h5v1h-5zM1318 420h2v1h-2zM1320 421h2v1h-2zM1322 422h2v1h-2zM1324 423h1v1h-1zM1325 424h2v1h-2zM1327 425h2v1h-2zM1329 426h1v1h-1zM1330 427h2v1h-2zM1332 428h1v1h-1zM1333 429h2v1h-2zM1335 430h1v1h-1zM1336 431h1v1h-1zM1337 432h2v1h-2zM1339 433h1v1h-1zM1340 434h2v1h-2zM1342 435h2v1h-2zM1344 436h2v1h-2zM1346 437h2v1h-2zM1348 438h5v1h-5zM1353 437h4v1h-4zM1357 436h1v1h-1zM1358 434h1v2h-1zM1359 433h1v1h-1zM1360 432h1v1h-1zM1361 431h1v1h-1zM1362 429h1v2h-1zM1363 428h1v1h-1zM1364 427h1v1h-1zM1365 426h1v1h-1zM1366 425h1v1h-1zM1367 424h1v1h-1zM1368 423h1v1h-1zM1369 422h1v1h-1zM1370 421h1v1h-1zM1371 420h1v1h-1zM1372 419h1v1h-1zM1373 418h2v1h-2zM1375 417h1v1h-1zM1376 416h1v1h-1zM1377 415h2v1h-2zM1379 414h1v1h-1zM1380 413h2v1h-2zM1382 412h2v1h-2zM1384 411h2v1h-2zM1386 410h2v1h-2zM1388 409h21v1h-21zM1409 410h6v1h-6zM1415 409h4v1h-4zM1419 408h14v1h-14zM1433 409h4v1h-4z" fill="#2ca765"/>
<rect x="1173" y="359" width="10" height="1" fill="#ff0000"/>
<rect x="1183.5" y="347.5" width="73" height="24" fill="#fff" stroke="#ff0000" stroke-width="1"/>
</g></g>
<text x="1184.9" y="368" font-size="22.8" fill="#ff0000" textLength="71.2" lengthAdjust="spacingAndGlyphs" font-family="Liberation Sans, sans-serif">133.822</text>
<g shape-rendering="crispEdges"><g clip-path="url(#cm)">
<path d="M4 56h1v51h-1zM2 72h5v33h-5zM12 97h1v11h-1zM10 101h5v5h-5zM20 90h1v29h-1zM18 101h5v10h-5zM28 104h1v49h-1zM26 110h5v38h-5zM36 147h1v15h-1zM34 147h5v9h-5zM44 144h1v41h-1zM42 155h5v22h-5zM52 161h1v20h-1zM50 174h5v3h-5zM60 172h1v9h-1zM58 176h5v4h-5zM68 173h1v30h-1zM66 175h5v19h-5zM76 187h1v17h-1zM74 193h5v6h-5zM84 186h1v3h-1zM82 187h5v1h-5zM92 168h1v21h-1zM90 173h5v15h-5zM100 149h1v35h-1zM98 156h5v18h-5zM108 155h1v7h-1zM106 158h5v4h-5zM116 153h1v19h-1zM114 157h5v12h-5zM124 133h1v43h-1zM122 142h5v26h-5zM132 139h1v5h-1zM130 140h5v4h-5zM140 137h1v42h-1zM138 140h5v30h-5zM148 168h1v38h-1zM146 169h5v32h-5zM156 200h1v10h-1zM154 201h5v8h-5zM164 166h1v38h-1zM162 167h5v35h-5zM172 156h1v43h-1zM170 167h5v26h-5zM180 160h1v44h-1zM178 165h5v27h-5zM188 153h1v23h-1zM186 161h5v4h-5zM196 152h1v14h-1zM194 160h5v2h-5zM204 164h1v5h-1zM202 165h5v3h-5zM212 163h1v14h-1zM210 165h5v1h-5zM220 153h1v22h-1zM218 162h5v4h-5zM228 154h1v17h-1zM226 156h5v5h-5zM236 137h1v21h-1zM234 139h5v18h-5zM244 130h1v27h-1zM242 140h5v15h-5zM252 155h1v5h-1zM250 157h5v3h-5zM260 155h1v13h-1zM258 156h5v2h-5zM268 142h1v24h-1zM266 154h5v4h-5zM276 128h1v28h-1zM274 136h5v19h-5zM284 134h1v25h-1zM282 136h5v12h-5zM292 133h1v37h-1zM290 147h5v19h-5zM300 174h1v10h-1zM298 176h5v7h-5zM308 168h1v15h-1zM306 178h5v5h-5zM316 174h1v22h-1zM314 178h5v4h-5zM324 179h1v12h-1zM322 181h5v6h-5zM332 169h1v32h-1zM330 174h5v12h-5zM340 156h1v17h-1zM338 162h5v11h-5zM348 164h1v5h-1zM346 165h5v3h-5zM356 160h1v45h-1zM354 166h5v37h-5zM364 166h1v42h-1zM362 171h5v32h-5zM372 154h1v26h-1zM370 169h5v3h-5zM380 166h1v17h-1zM378 169h5v12h-5zM388 176h1v22h-1zM386 180h5v17h-5zM396 195h1v6h-1zM394 197h5v3h-5zM404 182h1v18h-1zM402 189h5v10h-5zM412 174h1v17h-1zM410 178h5v12h-5zM420 165h1v15h-1zM418 176h5v2h-5zM428 152h1v30h-1zM426 158h5v18h-5zM436 154h1v14h-1zM434 158h5v4h-5zM444 155h1v4h-1zM442 156h5v3h-5zM452 155h1v13h-1zM450 157h5v10h-5zM460 157h1v21h-1zM458 165h5v1h-5zM468 137h1v30h-1zM466 147h5v19h-5zM476 128h1v23h-1zM474 136h5v11h-5zM484 120h1v28h-1zM482 124h5v13h-5zM492 130h1v7h-1zM490 131h5v5h-5zM500 128h1v43h-1zM498 131h5v27h-5zM508 149h1v15h-1zM506 154h5v4h-5zM516 147h1v33h-1zM514 154h5v21h-5zM524 172h1v31h-1zM522 174h5v27h-5zM532 198h1v82h-1zM530 199h5v72h-5zM540 270h1v14h-1zM538 272h5v11h-5zM548 244h1v45h-1zM546 258h5v13h-5zM556 258h1v35h-1zM554 259h5v28h-5zM564 255h1v33h-1zM562 256h5v31h-5zM572 257h1v27h-1zM570 257h5v22h-5zM580 275h1v29h-1zM578 278h5v16h-5zM588 305h1v13h-1zM586 310h5v8h-5zM596 305h1v82h-1zM594 309h5v32h-5zM604 287h1v68h-1zM602 322h5v17h-5zM612 301h1v60h-1zM610 323h5v34h-5zM620 350h1v64h-1zM618 354h5v54h-5zM628 349h1v67h-1zM626 375h5v32h-5zM636 386h1v29h-1zM634 398h5v2h-5zM644 386h1v80h-1zM642 398h5v38h-5zM652 415h1v58h-1zM650 435h5v5h-5zM660 434h1v135h-1zM658 439h5v93h-5zM668 451h1v104h-1zM666 487h5v45h-5zM676 398h1v99h-1zM674 471h5v15h-5zM684 461h1v26h-1zM682 479h5v1h-5zM692 460h1v39h-1zM690 474h5v5h-5zM700 411h1v74h-1zM698 420h5v54h-5zM708 368h1v77h-1zM706 413h5v7h-5zM716 359h1v70h-1zM714 376h5v38h-5zM724 344h1v53h-1zM722 345h5v30h-5zM732 357h1v10h-1zM730 360h5v7h-5zM740 347h1v36h-1zM738 360h5v4h-5zM748 342h1v34h-1zM746 362h5v8h-5zM756 364h1v25h-1zM754 369h5v13h-5zM764 354h1v34h-1zM762 359h5v23h-5zM772 357h1v30h-1zM770 359h5v22h-5zM780 380h1v5h-1zM778 381h5v3h-5zM788 344h1v39h-1zM786 368h5v14h-5zM796 334h1v41h-1zM794 354h5v14h-5zM804 333h1v30h-1zM802 334h5v20h-5zM812 318h1v25h-1zM810 334h5v1h-5zM820 330h1v7h-1zM818 331h5v4h-5zM828 331h1v15h-1zM826 334h5v6h-5zM836 323h1v21h-1zM834 329h5v11h-5zM844 328h1v36h-1zM842 329h5v12h-5zM852 335h1v27h-1zM850 339h5v2h-5zM860 337h1v22h-1zM858 338h5v11h-5zM868 345h1v3h-1zM866 345h5v2h-5zM876 340h1v21h-1zM874 345h5v12h-5zM884 354h1v47h-1zM882 356h5v32h-5zM892 370h1v28h-1zM890 380h5v6h-5zM900 362h1v29h-1zM898 378h5v3h-5zM908 374h1v17h-1zM906 377h5v7h-5zM916 377h1v5h-1zM914 378h5v3h-5zM924 365h1v15h-1zM922 371h5v8h-5zM932 365h1v19h-1zM930 371h5v12h-5zM940 377h1v23h-1zM938 378h5v5h-5zM948 324h1v61h-1zM946 335h5v43h-5zM956 332h1v38h-1zM954 335h5v34h-5zM964 373h1v8h-1zM962 375h5v4h-5zM972 372h1v16h-1zM970 378h5v5h-5zM980 373h1v18h-1zM978 382h5v7h-5zM988 388h1v40h-1zM986 388h5v35h-5zM996 398h1v27h-1zM994 407h5v15h-5zM1004 384h1v25h-1zM1002 390h5v18h-5zM1012 382h1v7h-1zM1010 382h5v5h-5zM1020 373h1v29h-1zM1018 382h5v3h-5zM1028 380h1v35h-1zM1026 384h5v30h-5zM1036 400h1v28h-1zM1034 413h5v11h-5zM1044 412h1v27h-1zM1042 413h5v11h-5zM1052 411h1v31h-1zM1050 413h5v29h-5zM1060 447h1v6h-1zM1058 448h5v3h-5zM1068 414h1v38h-1zM1066 420h5v31h-5zM1076 387h1v38h-1zM1074 395h5v26h-5zM1084 389h1v22h-1zM1082 395h5v12h-5zM1092 399h1v17h-1zM1090 405h5v4h-5zM1100 403h1v25h-1zM1098 407h5v15h-5zM1108 413h1v4h-1zM1106 413h5v3h-5zM1116 411h1v10h-1zM1114 411h5v3h-5zM1124 376h1v37h-1zM1122 386h5v26h-5zM1132 377h1v30h-1zM1130 386h5v9h-5zM1140 379h1v24h-1zM1138 387h5v8h-5zM1148 367h1v37h-1zM1146 380h5v5h-5zM1156 376h1v5h-1zM1154 378h5v1h-5zM1164 344h1v34h-1zM1162 349h5v29h-5zM1172 292h1v59h-1zM1170 293h5v57h-5zM1180 283h1v25h-1zM1178 290h5v4h-5zM1188 274h1v40h-1zM1186 279h5v12h-5zM1196 232h1v54h-1zM1194 251h5v29h-5zM1204 236h1v11h-1zM1202 239h5v7h-5zM1212 239h1v44h-1zM1210 239h5v30h-5zM1220 266h1v42h-1zM1218 269h5v23h-5zM1228 282h1v33h-1zM1226 290h5v23h-5zM1236 303h1v50h-1zM1234 312h5v38h-5zM1244 312h1v48h-1zM1242 349h5v2h-5zM1252 345h1v8h-1zM1250 346h5v5h-5zM1260 316h1v51h-1zM1258 316h5v34h-5zM1268 305h1v36h-1zM1266 316h5v16h-5zM1276 331h1v24h-1zM1274 331h5v23h-5zM1284 348h1v43h-1zM1282 353h5v26h-5zM1292 372h1v29h-1zM1290 378h5v21h-5zM1300 399h1v5h-1zM1298 401h5v1h-5zM1308 362h1v42h-1zM1306 363h5v38h-5zM1316 356h1v30h-1zM1314 363h5v9h-5zM1324 364h1v21h-1zM1322 371h5v10h-5zM1332 364h1v18h-1zM1330 375h5v6h-5zM1340 371h1v27h-1zM1338 374h5v19h-5zM1348 391h1v5h-1zM1346 391h5v3h-5zM1356 384h1v14h-1zM1354 390h5v3h-5zM1364 356h1v43h-1zM1362 356h5v33h-5zM1372 351h1v28h-1zM1370 355h5v3h-5zM1380 340h1v17h-1zM1378 354h5v3h-5zM1388 351h1v12h-1zM1386 353h5v3h-5zM1396 350h1v4h-1zM1394 351h5v3h-5zM1404 341h1v13h-1zM1402 351h5v3h-5zM1412 325h1v29h-1zM1410 336h5v18h-5zM1420 325h1v18h-1zM1418 327h5v9h-5zM1428 314h1v20h-1zM1426 327h5v4h-5zM1436 330h1v20h-1zM1434 330h5v4h-5z" fill="#000"/><path d="M11 102h3v3h-3zM51 175h3v1h-3zM59 177h3v2h-3zM91 174h3v13h-3zM99 157h3v16h-3zM107 159h3v2h-3zM123 143h3v24h-3zM131 141h3v2h-3zM155 202h3v6h-3zM163 168h3v33h-3zM179 166h3v25h-3zM187 162h3v2h-3zM203 166h3v1h-3zM219 163h3v2h-3zM227 157h3v3h-3zM235 140h3v16h-3zM251 158h3v1h-3zM267 155h3v2h-3zM275 137h3v17h-3zM307 179h3v3h-3zM331 175h3v10h-3zM339 163h3v9h-3zM347 166h3v1h-3zM363 172h3v30h-3zM371 170h3v1h-3zM403 190h3v8h-3zM411 179h3v10h-3zM427 159h3v16h-3zM443 157h3v1h-3zM467 148h3v17h-3zM475 137h3v9h-3zM483 125h3v11h-3zM491 132h3v3h-3zM507 155h3v2h-3zM539 273h3v9h-3zM547 259h3v11h-3zM563 257h3v29h-3zM587 311h3v6h-3zM603 323h3v15h-3zM627 376h3v30h-3zM667 488h3v43h-3zM675 472h3v13h-3zM691 475h3v3h-3zM699 421h3v52h-3zM707 414h3v5h-3zM715 377h3v36h-3zM723 346h3v28h-3zM731 361h3v5h-3zM763 360h3v21h-3zM779 382h3v1h-3zM787 369h3v12h-3zM795 355h3v12h-3zM803 335h3v18h-3zM835 330h3v9h-3zM891 381h3v4h-3zM899 379h3v1h-3zM915 379h3v1h-3zM923 372h3v6h-3zM939 379h3v3h-3zM947 336h3v41h-3zM995 408h3v13h-3zM1003 391h3v16h-3zM1011 383h3v3h-3zM1043 414h3v9h-3zM1067 421h3v29h-3zM1075 396h3v24h-3zM1107 414h3v1h-3zM1115 412h3v1h-3zM1123 387h3v24h-3zM1139 388h3v6h-3zM1147 381h3v3h-3zM1163 350h3v27h-3zM1171 294h3v55h-3zM1179 291h3v2h-3zM1187 280h3v10h-3zM1195 252h3v27h-3zM1203 240h3v5h-3zM1259 317h3v32h-3zM1307 364h3v36h-3zM1331 376h3v4h-3zM1347 392h3v1h-3zM1355 391h3v1h-3zM1363 357h3v31h-3zM1371 356h3v1h-3zM1379 355h3v1h-3zM1387 354h3v1h-3zM1395 352h3v1h-3zM1411 337h3v16h-3zM1419 328h3v7h-3z" fill="#fff"/>
</g>
<path d="M1443 30h11l-5.5 5.5z" fill="#c0c0c0"/>
<rect x="1341" y="353" width="128" height="8" fill="#00ff00"/>
</g>
<line x1="1349.6" y1="404.2" x2="1436" y2="332" stroke="#ff0000" stroke-width="3.2"/>
<path d="M1441.3 327.3L1429 329.6L1434.6 339.4z" fill="#ff0000"/>
<g shape-rendering="crispEdges">
<rect x="1689" y="283" width="41" height="11" fill="#ff0000"/>
<rect x="1689" y="305" width="41" height="11" fill="#ff0000"/>
<rect x="1689" y="328" width="41" height="11" fill="#000000"/>
<rect x="1689" y="353" width="41" height="11" fill="#32cd32"/>
<rect x="1689" y="375" width="41" height="11" fill="#0000ff"/>
<rect x="1689" y="397" width="41" height="11" fill="#0000ff"/>
</g>
<g font-family="Liberation Sans, sans-serif" font-size="9.9" fill="#fff">
<text x="1693.5" y="292.1" font-size="9.9" fill="#fff" textLength="31.6" lengthAdjust="spacingAndGlyphs" >137.081</text>
<text x="1693.5" y="314.1" font-size="9.9" fill="#fff" textLength="31.6" lengthAdjust="spacingAndGlyphs" >136.057</text>
<text x="1693.5" y="337.1" font-size="9.9" fill="#fff" textLength="31.6" lengthAdjust="spacingAndGlyphs" >135.014</text>
<text x="1693.5" y="362.1" font-size="9.9" fill="#fff" textLength="31.6" lengthAdjust="spacingAndGlyphs" >133.822</text>
<text x="1693.5" y="384.1" font-size="9.9" fill="#fff" textLength="31.6" lengthAdjust="spacingAndGlyphs" >132.798</text>
<text x="1693.5" y="406.1" font-size="9.9" fill="#fff" textLength="31.6" lengthAdjust="spacingAndGlyphs" >131.774</text>
</g>
<g shape-rendering="crispEdges">
<clipPath id="c2"><rect x="0" y="585" width="1687" height="169"/></clipPath>
<g clip-path="url(#c2)"><path d="M4 601h1v42h-1zM12 599h1v44h-1zM20 598h1v45h-1zM28 602h1v41h-1zM36 607h1v36h-1zM44 613h1v30h-1zM52 618h1v25h-1zM60 622h1v21h-1zM68 628h1v15h-1zM76 633h1v10h-1zM84 636h1v7h-1zM92 637h1v6h-1zM100 636h1v7h-1zM108 635h1v8h-1zM116 636h1v7h-1zM124 633h1v10h-1zM132 631h1v12h-1zM140 633h1v10h-1zM148 638h1v5h-1zM156 642h1v1h-1zM164 642h1v1h-1zM172 642h1v3h-1zM180 642h1v2h-1zM188 641h1v2h-1zM196 640h1v3h-1zM204 640h1v3h-1zM212 640h1v3h-1zM220 639h1v4h-1zM228 638h1v5h-1zM236 635h1v8h-1zM244 635h1v8h-1zM252 635h1v8h-1zM260 635h1v8h-1zM268 635h1v8h-1zM276 633h1v10h-1zM284 633h1v10h-1zM292 635h1v8h-1zM300 638h1v5h-1zM308 641h1v2h-1zM316 642h1v2h-1zM324 642h1v4h-1zM332 642h1v5h-1zM340 642h1v3h-1zM348 642h1v3h-1zM356 642h1v7h-1zM364 642h1v6h-1zM372 642h1v5h-1zM380 642h1v6h-1zM388 642h1v8h-1zM396 642h1v10h-1zM404 642h1v10h-1zM412 642h1v9h-1zM420 642h1v8h-1zM428 642h1v5h-1zM436 642h1v3h-1zM444 642h1v1h-1zM452 641h1v2h-1zM460 641h1v2h-1zM468 638h1v5h-1zM476 635h1v8h-1zM484 631h1v12h-1zM492 629h1v14h-1zM500 631h1v12h-1zM508 632h1v11h-1zM516 635h1v8h-1zM524 640h1v3h-1zM532 642h1v11h-1zM540 642h1v21h-1zM548 642h1v27h-1zM556 642h1v34h-1zM564 642h1v36h-1zM572 642h1v40h-1zM580 642h1v44h-1zM588 642h1v48h-1zM596 642h1v55h-1zM604 642h1v57h-1zM612 642h1v62h-1zM620 642h1v71h-1zM628 642h1v74h-1zM636 642h1v78h-1zM644 642h1v84h-1zM652 642h1v88h-1zM660 642h1v101h-1zM668 642h1v105h-1zM676 642h1v105h-1zM684 642h1v105h-1zM692 642h1v103h-1zM700 642h1v94h-1zM708 642h1v85h-1zM716 642h1v73h-1zM724 642h1v60h-1zM732 642h1v50h-1zM740 642h1v42h-1zM748 642h1v37h-1zM756 642h1v33h-1zM764 642h1v27h-1zM772 642h1v25h-1zM780 642h1v23h-1zM788 642h1v19h-1zM796 642h1v15h-1zM804 642h1v9h-1zM812 642h1v4h-1zM820 642h1v1h-1zM828 640h1v3h-1zM836 637h1v6h-1zM844 636h1v7h-1zM852 635h1v8h-1zM860 635h1v8h-1zM868 636h1v7h-1zM876 637h1v6h-1zM884 642h1v1h-1zM892 642h1v3h-1zM900 642h1v5h-1zM908 642h1v7h-1zM916 642h1v8h-1zM924 642h1v8h-1zM932 642h1v9h-1zM940 642h1v9h-1zM948 642h1v5h-1zM956 642h1v5h-1zM964 642h1v6h-1zM972 642h1v7h-1zM980 642h1v9h-1zM988 642h1v14h-1zM996 642h1v16h-1zM1004 642h1v15h-1zM1012 642h1v14h-1zM1020 642h1v13h-1zM1028 642h1v15h-1zM1036 642h1v18h-1zM1044 642h1v19h-1zM1052 642h1v22h-1zM1060 642h1v26h-1zM1068 642h1v25h-1zM1076 642h1v21h-1zM1084 642h1v19h-1zM1092 642h1v18h-1zM1100 642h1v18h-1zM1108 642h1v17h-1zM1116 642h1v16h-1zM1124 642h1v12h-1zM1132 642h1v10h-1zM1140 642h1v7h-1zM1148 642h1v4h-1zM1156 642h1v1h-1zM1164 637h1v6h-1zM1172 627h1v16h-1zM1180 618h1v25h-1zM1188 611h1v32h-1zM1196 602h1v41h-1zM1204 595h1v48h-1zM1212 593h1v50h-1zM1220 594h1v49h-1zM1228 598h1v45h-1zM1236 606h1v37h-1zM1244 613h1v30h-1zM1252 618h1v25h-1zM1260 619h1v24h-1zM1268 622h1v21h-1zM1276 626h1v17h-1zM1284 633h1v10h-1zM1292 640h1v3h-1zM1300 642h1v6h-1zM1308 642h1v6h-1zM1316 642h1v8h-1zM1324 642h1v10h-1zM1332 642h1v10h-1zM1340 642h1v13h-1zM1348 642h1v14h-1zM1356 642h1v15h-1zM1364 642h1v12h-1zM1372 642h1v10h-1zM1380 642h1v7h-1zM1388 642h1v5h-1zM1396 642h1v3h-1zM1404 642h1v2h-1zM1412 640h1v3h-1zM1420 637h1v6h-1zM1428 635h1v8h-1zM1436 634h1v9h-1z" fill="#c0c0c0"/><path d="M2 615h1v1h-1zM3 614h2v1h-2zM8 613h3v1h-3zM14 611h3v1h-3zM20 609h3v1h-3zM26 608h3v1h-3zM32 608h1v1h-1zM33 607h2v1h-2zM38 607h3v1h-3zM44 606h3v1h-3zM50 606h3v1h-3zM56 606h1v1h-1zM57 607h2v1h-2zM62 608h3v1h-3zM68 610h2v1h-2zM70 611h1v1h-1zM74 612h1v1h-1zM75 613h2v1h-2zM80 615h1v1h-1zM81 616h1v1h-1zM82 617h1v1h-1zM86 619h2v1h-2zM88 620h1v1h-1zM92 622h2v1h-2zM94 623h1v1h-1zM98 625h2v1h-2zM100 626h1v1h-1zM104 627h1v1h-1zM105 628h2v1h-2zM110 629h1v1h-1zM111 630h2v1h-2zM116 631h3v1h-3zM122 632h1v1h-1zM123 633h2v1h-2zM128 633h1v1h-1zM129 634h2v1h-2zM134 634h3v1h-3zM140 634h3v1h-3zM146 635h3v1h-3zM152 635h1v1h-1zM153 636h2v1h-2zM158 636h3v1h-3zM164 636h3v1h-3zM170 637h3v1h-3zM176 637h1v1h-1zM177 638h2v1h-2zM182 638h3v1h-3zM188 639h3v1h-3zM194 639h3v1h-3zM200 639h1v1h-1zM201 640h2v1h-2zM206 640h3v1h-3zM212 641h3v1h-3zM218 641h3v1h-3zM224 641h3v1h-3zM230 641h3v1h-3zM236 640h3v1h-3zM242 639h3v1h-3zM248 639h1v1h-1zM249 638h2v1h-2zM254 638h3v1h-3zM260 637h3v1h-3zM266 637h3v1h-3zM272 637h1v1h-1zM273 636h2v1h-2zM278 636h3v1h-3zM284 635h3v1h-3zM290 635h3v1h-3zM296 635h3v1h-3zM302 635h3v1h-3zM308 636h3v1h-3zM314 637h3v1h-3zM320 637h1v1h-1zM321 638h2v1h-2zM326 638h3v1h-3zM332 639h3v1h-3zM338 640h3v1h-3zM344 640h1v1h-1zM345 641h2v1h-2zM350 641h1v1h-1zM351 642h2v1h-2zM356 643h3v1h-3zM362 644h3v1h-3zM368 644h1v1h-1zM369 645h2v1h-2zM374 645h3v1h-3zM380 646h3v1h-3zM386 646h3v1h-3zM392 646h1v1h-1zM393 647h2v1h-2zM398 647h3v1h-3zM404 647h3v1h-3zM410 648h3v1h-3zM416 648h1v1h-1zM417 649h2v1h-2zM422 649h3v1h-3zM428 648h3v1h-3zM434 648h3v1h-3zM440 648h3v1h-3zM446 648h3v1h-3zM452 647h3v1h-3zM458 646h3v1h-3zM464 646h1v1h-1zM465 645h2v1h-2zM470 645h1v1h-1zM471 644h2v1h-2zM476 643h3v1h-3zM482 642h1v1h-1zM483 641h2v1h-2zM488 640h3v1h-3zM494 639h1v1h-1zM495 638h2v1h-2zM500 637h3v1h-3zM506 636h3v1h-3zM512 636h1v1h-1zM513 635h2v1h-2zM518 635h3v1h-3zM524 635h3v1h-3zM530 636h3v1h-3zM536 637h1v1h-1zM537 638h2v1h-2zM542 640h3v1h-3zM548 642h1v1h-1zM549 643h2v1h-2zM554 646h2v1h-2zM556 647h1v1h-1zM560 649h1v1h-1zM561 650h1v1h-1zM562 651h1v1h-1zM566 653h1v1h-1zM567 654h1v1h-1zM568 655h1v1h-1zM572 658h1v1h-1zM573 659h2v1h-2zM578 662h1v1h-1zM579 663h1v1h-1zM580 664h1v1h-1zM584 667h1v1h-1zM585 668h2v1h-2zM590 671h1v1h-1zM591 672h1v1h-1zM592 673h1v1h-1zM596 676h1v1h-1zM597 677h2v1h-2zM602 680h2v1h-2zM604 681h1v1h-1zM608 683h1v1h-1zM609 684h1v1h-1zM610 685h1v1h-1zM614 687h1v1h-1zM615 688h2v1h-2zM620 691h2v1h-2zM622 692h1v1h-1zM626 694h2v1h-2zM628 695h1v1h-1zM632 697h1v1h-1zM633 698h1v1h-1zM634 699h1v1h-1zM638 701h1v1h-1zM639 702h2v1h-2zM644 705h2v1h-2zM646 706h1v1h-1zM650 708h2v1h-2zM652 709h1v1h-1zM656 712h1v1h-1zM657 713h2v1h-2zM662 716h1v1h-1zM663 717h1v1h-1zM664 718h1v1h-1zM668 721h1v1h-1zM669 722h2v1h-2zM674 725h2v1h-2zM676 726h1v1h-1zM680 728h1v1h-1zM681 729h1v1h-1zM682 730h1v1h-1zM686 732h3v1h-3zM692 734h2v1h-2zM694 735h1v1h-1zM698 736h1v1h-1zM699 737h2v1h-2zM704 737h1v1h-1zM705 738h2v1h-2zM710 738h1v1h-1zM711 737h2v1h-2zM716 736h2v1h-2zM718 735h1v1h-1zM722 734h1v1h-1zM723 733h2v1h-2zM728 731h1v1h-1zM729 730h1v1h-1zM730 729h1v1h-1zM734 726h1v1h-1zM735 725h2v1h-2zM740 721h1v1h-1zM741 720h1v1h-1zM742 719h1v1h-1zM746 715h1v1h-1zM747 714h1v1h-1zM748 713h1v1h-1zM752 709h1v1h-1zM753 708h1v1h-1zM754 707h1v1h-1zM758 703h1v1h-1zM759 702h1v1h-1zM760 701h1v1h-1zM764 697h1v1h-1zM765 696h1v1h-1zM766 695h1v1h-1zM770 691h1v1h-1zM771 690h1v1h-1zM772 689h1v1h-1zM776 686h1v1h-1zM777 685h1v1h-1zM778 684h1v1h-1zM782 681h1v1h-1zM783 680h1v1h-1zM784 679h1v1h-1zM788 676h1v1h-1zM789 675h2v1h-2zM794 672h2v1h-2zM796 671h1v1h-1zM800 669h2v1h-2zM802 668h1v1h-1zM806 666h1v1h-1zM807 665h2v1h-2zM812 662h2v1h-2zM814 661h1v1h-1zM818 659h2v1h-2zM820 658h1v1h-1zM824 657h1v1h-1zM825 656h2v1h-2zM830 654h2v1h-2zM832 653h1v1h-1zM836 651h2v1h-2zM838 650h1v1h-1zM842 649h1v1h-1zM843 648h2v1h-2zM848 646h2v1h-2zM850 645h1v1h-1zM854 644h1v1h-1zM855 643h2v1h-2zM860 642h2v1h-2zM862 641h1v1h-1zM866 640h1v1h-1zM867 639h2v1h-2zM872 639h1v1h-1zM873 638h2v1h-2zM878 638h3v1h-3zM884 638h3v1h-3zM890 638h3v1h-3zM896 638h1v1h-1zM897 639h2v1h-2zM902 639h3v1h-3zM908 640h3v1h-3zM914 641h3v1h-3zM920 642h3v1h-3zM926 643h1v1h-1zM927 644h2v1h-2zM932 645h3v1h-3zM938 646h3v1h-3zM944 646h1v1h-1zM945 647h2v1h-2zM950 647h3v1h-3zM956 648h3v1h-3zM962 648h3v1h-3zM968 648h3v1h-3zM974 648h3v1h-3zM980 648h3v1h-3zM986 649h3v1h-3zM992 649h1v1h-1zM993 650h2v1h-2zM998 650h3v1h-3zM1004 650h3v1h-3zM1010 651h3v1h-3zM1016 651h1v1h-1zM1017 652h2v1h-2zM1022 652h3v1h-3zM1028 653h3v1h-3zM1034 654h3v1h-3zM1040 655h3v1h-3zM1046 656h3v1h-3zM1052 657h3v1h-3zM1058 658h3v1h-3zM1064 658h1v1h-1zM1065 659h2v1h-2zM1070 659h3v1h-3zM1076 660h3v1h-3zM1082 661h3v1h-3zM1088 661h3v1h-3zM1094 661h3v1h-3zM1100 662h3v1h-3zM1106 662h3v1h-3zM1112 662h1v1h-1zM1113 661h2v1h-2zM1118 661h3v1h-3zM1124 660h3v1h-3zM1130 659h1v1h-1zM1131 658h2v1h-2zM1136 657h3v1h-3zM1142 656h1v1h-1zM1143 655h2v1h-2zM1148 654h3v1h-3zM1154 653h1v1h-1zM1155 652h2v1h-2zM1160 651h3v1h-3zM1166 649h2v1h-2zM1168 648h1v1h-1zM1172 646h2v1h-2zM1174 645h1v1h-1zM1178 643h2v1h-2zM1180 642h1v1h-1zM1184 640h1v1h-1zM1185 639h1v1h-1zM1186 638h1v1h-1zM1190 636h1v1h-1zM1191 635h1v1h-1zM1192 634h1v1h-1zM1196 631h1v1h-1zM1197 630h2v1h-2zM1202 627h1v1h-1zM1203 626h1v1h-1zM1204 625h1v1h-1zM1208 622h1v1h-1zM1209 621h2v1h-2zM1214 618h1v1h-1zM1215 617h1v1h-1zM1216 616h1v1h-1zM1220 613h1v1h-1zM1221 612h2v1h-2zM1226 609h2v1h-2zM1228 608h1v1h-1zM1232 607h1v1h-1zM1233 606h2v1h-2zM1238 605h1v1h-1zM1239 604h2v1h-2zM1244 603h3v1h-3zM1250 603h3v1h-3zM1256 603h1v1h-1zM1257 604h2v1h-2zM1262 604h1v1h-1zM1263 605h2v1h-2zM1268 606h2v1h-2zM1270 607h1v1h-1zM1274 609h2v1h-2zM1276 610h1v1h-1zM1280 612h2v1h-2zM1282 613h1v1h-1zM1286 615h1v1h-1zM1287 616h2v1h-2zM1292 619h1v1h-1zM1293 620h2v1h-2zM1298 623h1v1h-1zM1299 624h1v1h-1zM1300 625h1v1h-1zM1304 627h2v1h-2zM1306 628h1v1h-1zM1310 630h2v1h-2zM1312 631h1v1h-1zM1316 633h2v1h-2zM1318 634h1v1h-1zM1322 636h2v1h-2zM1324 637h1v1h-1zM1328 639h2v1h-2zM1330 640h1v1h-1zM1334 642h3v1h-3zM1340 644h2v1h-2zM1342 645h1v1h-1zM1346 646h1v1h-1zM1347 647h2v1h-2zM1352 648h1v1h-1zM1353 649h2v1h-2zM1358 650h3v1h-3zM1364 651h3v1h-3zM1370 652h3v1h-3zM1376 652h3v1h-3zM1382 652h3v1h-3zM1388 652h3v1h-3zM1394 651h3v1h-3zM1400 651h1v1h-1zM1401 650h2v1h-2zM1406 650h3v1h-3zM1412 649h3v1h-3zM1418 648h1v1h-1zM1419 647h2v1h-2zM1424 646h1v1h-1zM1425 645h2v1h-2zM1430 644h1v1h-1zM1431 643h2v1h-2zM1436 642h1v1h-1z" fill="#ff0000"/></g>
<rect x="1688" y="586" width="2" height="1" fill="#000"/>
<rect x="1688" y="642" width="2" height="1" fill="#000"/>
<rect x="1688" y="753" width="2" height="1" fill="#000"/>
</g>
<g font-family="Liberation Sans, sans-serif" font-size="9.9">
<text x="0.6" y="597.3" font-size="9.9" fill="#000" textLength="129.5" lengthAdjust="spacingAndGlyphs" >MACD(12,26,9) 0.2726 -0.0185</text>
<text x="1691.5" y="595.4" font-size="9.9" fill="#000" textLength="22.2" lengthAdjust="spacingAndGlyphs" >1.894</text>
<text x="1691.5" y="645.8" font-size="9.9" fill="#000" textLength="17.5" lengthAdjust="spacingAndGlyphs" >0.00</text>
<text x="1691" y="751.3" font-size="9.9" fill="#000" textLength="31" lengthAdjust="spacingAndGlyphs" >-3.7183</text>
</g>
<g shape-rendering="crispEdges">
<path d="M3 792h3v1h-3zM9 792h3v1h-3zM15 792h3v1h-3zM21 792h3v1h-3zM27 792h3v1h-3zM33 792h3v1h-3zM39 792h3v1h-3zM45 792h3v1h-3zM51 792h3v1h-3zM57 792h3v1h-3zM63 792h3v1h-3zM69 792h3v1h-3zM75 792h3v1h-3zM81 792h3v1h-3zM87 792h3v1h-3zM93 792h3v1h-3zM99 792h3v1h-3zM105 792h3v1h-3zM111 792h3v1h-3zM117 792h3v1h-3zM123 792h3v1h-3zM129 792h3v1h-3zM135 792h3v1h-3zM141 792h3v1h-3zM147 792h3v1h-3zM153 792h3v1h-3zM159 792h3v1h-3zM165 792h3v1h-3zM171 792h3v1h-3zM177 792h3v1h-3zM183 792h3v1h-3zM189 792h3v1h-3zM195 792h3v1h-3zM201 792h3v1h-3zM207 792h3v1h-3zM213 792h3v1h-3zM219 792h3v1h-3zM225 792h3v1h-3zM231 792h3v1h-3zM237 792h3v1h-3zM243 792h3v1h-3zM249 792h3v1h-3zM255 792h3v1h-3zM261 792h3v1h-3zM267 792h3v1h-3zM273 792h3v1h-3zM279 792h3v1h-3zM285 792h3v1h-3zM291 792h3v1h-3zM297 792h3v1h-3zM303 792h3v1h-3zM309 792h3v1h-3zM315 792h3v1h-3zM321 792h3v1h-3zM327 792h3v1h-3zM333 792h3v1h-3zM339 792h3v1h-3zM345 792h3v1h-3zM351 792h3v1h-3zM357 792h3v1h-3zM363 792h3v1h-3zM369 792h3v1h-3zM375 792h3v1h-3zM381 792h3v1h-3zM387 792h3v1h-3zM393 792h3v1h-3zM399 792h3v1h-3zM405 792h3v1h-3zM411 792h3v1h-3zM417 792h3v1h-3zM423 792h3v1h-3zM429 792h3v1h-3zM435 792h3v1h-3zM441 792h3v1h-3zM447 792h3v1h-3zM453 792h3v1h-3zM459 792h3v1h-3zM465 792h3v1h-3zM471 792h3v1h-3zM477 792h3v1h-3zM483 792h3v1h-3zM489 792h3v1h-3zM495 792h3v1h-3zM501 792h3v1h-3zM507 792h3v1h-3zM513 792h3v1h-3zM519 792h3v1h-3zM525 792h3v1h-3zM531 792h3v1h-3zM537 792h3v1h-3zM543 792h3v1h-3zM549 792h3v1h-3zM555 792h3v1h-3zM561 792h3v1h-3zM567 792h3v1h-3zM573 792h3v1h-3zM579 792h3v1h-3zM585 792h3v1h-3zM591 792h3v1h-3zM597 792h3v1h-3zM603 792h3v1h-3zM609 792h3v1h-3zM615 792h3v1h-3zM621 792h3v1h-3zM627 792h3v1h-3zM633 792h3v1h-3zM639 792h3v1h-3zM645 792h3v1h-3zM651 792h3v1h-3zM657 792h3v1h-3zM663 792h3v1h-3zM669 792h3v1h-3zM675 792h3v1h-3zM681 792h3v1h-3zM687 792h3v1h-3zM693 792h3v1h-3zM699 792h3v1h-3zM705 792h3v1h-3zM711 792h3v1h-3zM717 792h3v1h-3zM723 792h3v1h-3zM729 792h3v1h-3zM735 792h3v1h-3zM741 792h3v1h-3zM747 792h3v1h-3zM753 792h3v1h-3zM759 792h3v1h-3zM765 792h3v1h-3zM771 792h3v1h-3zM777 792h3v1h-3zM783 792h3v1h-3zM789 792h3v1h-3zM795 792h3v1h-3zM801 792h3v1h-3zM807 792h3v1h-3zM813 792h3v1h-3zM819 792h3v1h-3zM825 792h3v1h-3zM831 792h3v1h-3zM837 792h3v1h-3zM843 792h3v1h-3zM849 792h3v1h-3zM855 792h3v1h-3zM861 792h3v1h-3zM867 792h3v1h-3zM873 792h3v1h-3zM879 792h3v1h-3zM885 792h3v1h-3zM891 792h3v1h-3zM897 792h3v1h-3zM903 792h3v1h-3zM909 792h3v1h-3zM915 792h3v1h-3zM921 792h3v1h-3zM927 792h3v1h-3zM933 792h3v1h-3zM939 792h3v1h-3zM945 792h3v1h-3zM951 792h3v1h-3zM957 792h3v1h-3zM963 792h3v1h-3zM969 792h3v1h-3zM975 792h3v1h-3zM981 792h3v1h-3zM987 792h3v1h-3zM993 792h3v1h-3zM999 792h3v1h-3zM1005 792h3v1h-3zM1011 792h3v1h-3zM1017 792h3v1h-3zM1023 792h3v1h-3zM1029 792h3v1h-3zM1035 792h3v1h-3zM1041 792h3v1h-3zM1047 792h3v1h-3zM1053 792h3v1h-3zM1059 792h3v1h-3zM1065 792h3v1h-3zM1071 792h3v1h-3zM1077 792h3v1h-3zM1083 792h3v1h-3zM1089 792h3v1h-3zM1095 792h3v1h-3zM1101 792h3v1h-3zM1107 792h3v1h-3zM1113 792h3v1h-3zM1119 792h3v1h-3zM1125 792h3v1h-3zM1131 792h3v1h-3zM1137 792h3v1h-3zM1143 792h3v1h-3zM1149 792h3v1h-3zM1155 792h3v1h-3zM1161 792h3v1h-3zM1167 792h3v1h-3zM1173 792h3v1h-3zM1179 792h3v1h-3zM1185 792h3v1h-3zM1191 792h3v1h-3zM1197 792h3v1h-3zM1203 792h3v1h-3zM1209 792h3v1h-3zM1215 792h3v1h-3zM1221 792h3v1h-3zM1227 792h3v1h-3zM1233 792h3v1h-3zM1239 792h3v1h-3zM1245 792h3v1h-3zM1251 792h3v1h-3zM1257 792h3v1h-3zM1263 792h3v1h-3zM1269 792h3v1h-3zM1275 792h3v1h-3zM1281 792h3v1h-3zM1287 792h3v1h-3zM1293 792h3v1h-3zM1299 792h3v1h-3zM1305 792h3v1h-3zM1311 792h3v1h-3zM1317 792h3v1h-3zM1323 792h3v1h-3zM1329 792h3v1h-3zM1335 792h3v1h-3zM1341 792h3v1h-3zM1347 792h3v1h-3zM1353 792h3v1h-3zM1359 792h3v1h-3zM1365 792h3v1h-3zM1371 792h3v1h-3zM1377 792h3v1h-3zM1383 792h3v1h-3zM1389 792h3v1h-3zM1395 792h3v1h-3zM1401 792h3v1h-3zM1407 792h3v1h-3zM1413 792h3v1h-3zM1419 792h3v1h-3zM1425 792h3v1h-3zM1431 792h3v1h-3zM1437 792h3v1h-3zM1443 792h3v1h-3zM1449 792h3v1h-3zM1455 792h3v1h-3zM1461 792h3v1h-3zM1467 792h3v1h-3zM1473 792h3v1h-3zM1479 792h3v1h-3zM1485 792h3v1h-3zM1491 792h3v1h-3zM1497 792h3v1h-3zM1503 792h3v1h-3zM1509 792h3v1h-3zM1515 792h3v1h-3zM1521 792h3v1h-3zM1527 792h3v1h-3zM1533 792h3v1h-3zM1539 792h3v1h-3zM1545 792h3v1h-3zM1551 792h3v1h-3zM1557 792h3v1h-3zM1563 792h3v1h-3zM1569 792h3v1h-3zM1575 792h3v1h-3zM1581 792h3v1h-3zM1587 792h3v1h-3zM1593 792h3v1h-3zM1599 792h3v1h-3zM1605 792h3v1h-3zM1611 792h3v1h-3zM1617 792h3v1h-3zM1623 792h3v1h-3zM1629 792h3v1h-3zM1635 792h3v1h-3zM1641 792h3v1h-3zM1647 792h3v1h-3zM1653 792h3v1h-3zM1659 792h3v1h-3zM1665 792h3v1h-3zM1671 792h3v1h-3zM1677 792h3v1h-3zM1683 792h3v1h-3zM3 843h3v1h-3zM9 843h3v1h-3zM15 843h3v1h-3zM21 843h3v1h-3zM27 843h3v1h-3zM33 843h3v1h-3zM39 843h3v1h-3zM45 843h3v1h-3zM51 843h3v1h-3zM57 843h3v1h-3zM63 843h3v1h-3zM69 843h3v1h-3zM75 843h3v1h-3zM81 843h3v1h-3zM87 843h3v1h-3zM93 843h3v1h-3zM99 843h3v1h-3zM105 843h3v1h-3zM111 843h3v1h-3zM117 843h3v1h-3zM123 843h3v1h-3zM129 843h3v1h-3zM135 843h3v1h-3zM141 843h3v1h-3zM147 843h3v1h-3zM153 843h3v1h-3zM159 843h3v1h-3zM165 843h3v1h-3zM171 843h3v1h-3zM177 843h3v1h-3zM183 843h3v1h-3zM189 843h3v1h-3zM195 843h3v1h-3zM201 843h3v1h-3zM207 843h3v1h-3zM213 843h3v1h-3zM219 843h3v1h-3zM225 843h3v1h-3zM231 843h3v1h-3zM237 843h3v1h-3zM243 843h3v1h-3zM249 843h3v1h-3zM255 843h3v1h-3zM261 843h3v1h-3zM267 843h3v1h-3zM273 843h3v1h-3zM279 843h3v1h-3zM285 843h3v1h-3zM291 843h3v1h-3zM297 843h3v1h-3zM303 843h3v1h-3zM309 843h3v1h-3zM315 843h3v1h-3zM321 843h3v1h-3zM327 843h3v1h-3zM333 843h3v1h-3zM339 843h3v1h-3zM345 843h3v1h-3zM351 843h3v1h-3zM357 843h3v1h-3zM363 843h3v1h-3zM369 843h3v1h-3zM375 843h3v1h-3zM381 843h3v1h-3zM387 843h3v1h-3zM393 843h3v1h-3zM399 843h3v1h-3zM405 843h3v1h-3zM411 843h3v1h-3zM417 843h3v1h-3zM423 843h3v1h-3zM429 843h3v1h-3zM435 843h3v1h-3zM441 843h3v1h-3zM447 843h3v1h-3zM453 843h3v1h-3zM459 843h3v1h-3zM465 843h3v1h-3zM471 843h3v1h-3zM477 843h3v1h-3zM483 843h3v1h-3zM489 843h3v1h-3zM495 843h3v1h-3zM501 843h3v1h-3zM507 843h3v1h-3zM513 843h3v1h-3zM519 843h3v1h-3zM525 843h3v1h-3zM531 843h3v1h-3zM537 843h3v1h-3zM543 843h3v1h-3zM549 843h3v1h-3zM555 843h3v1h-3zM561 843h3v1h-3zM567 843h3v1h-3zM573 843h3v1h-3zM579 843h3v1h-3zM585 843h3v1h-3zM591 843h3v1h-3zM597 843h3v1h-3zM603 843h3v1h-3zM609 843h3v1h-3zM615 843h3v1h-3zM621 843h3v1h-3zM627 843h3v1h-3zM633 843h3v1h-3zM639 843h3v1h-3zM645 843h3v1h-3zM651 843h3v1h-3zM657 843h3v1h-3zM663 843h3v1h-3zM669 843h3v1h-3zM675 843h3v1h-3zM681 843h3v1h-3zM687 843h3v1h-3zM693 843h3v1h-3zM699 843h3v1h-3zM705 843h3v1h-3zM711 843h3v1h-3zM717 843h3v1h-3zM723 843h3v1h-3zM729 843h3v1h-3zM735 843h3v1h-3zM741 843h3v1h-3zM747 843h3v1h-3zM753 843h3v1h-3zM759 843h3v1h-3zM765 843h3v1h-3zM771 843h3v1h-3zM777 843h3v1h-3zM783 843h3v1h-3zM789 843h3v1h-3zM795 843h3v1h-3zM801 843h3v1h-3zM807 843h3v1h-3zM813 843h3v1h-3zM819 843h3v1h-3zM825 843h3v1h-3zM831 843h3v1h-3zM837 843h3v1h-3zM843 843h3v1h-3zM849 843h3v1h-3zM855 843h3v1h-3zM861 843h3v1h-3zM867 843h3v1h-3zM873 843h3v1h-3zM879 843h3v1h-3zM885 843h3v1h-3zM891 843h3v1h-3zM897 843h3v1h-3zM903 843h3v1h-3zM909 843h3v1h-3zM915 843h3v1h-3zM921 843h3v1h-3zM927 843h3v1h-3zM933 843h3v1h-3zM939 843h3v1h-3zM945 843h3v1h-3zM951 843h3v1h-3zM957 843h3v1h-3zM963 843h3v1h-3zM969 843h3v1h-3zM975 843h3v1h-3zM981 843h3v1h-3zM987 843h3v1h-3zM993 843h3v1h-3zM999 843h3v1h-3zM1005 843h3v1h-3zM1011 843h3v1h-3zM1017 843h3v1h-3zM1023 843h3v1h-3zM1029 843h3v1h-3zM1035 843h3v1h-3zM1041 843h3v1h-3zM1047 843h3v1h-3zM1053 843h3v1h-3zM1059 843h3v1h-3zM1065 843h3v1h-3zM1071 843h3v1h-3zM1077 843h3v1h-3zM1083 843h3v1h-3zM1089 843h3v1h-3zM1095 843h3v1h-3zM1101 843h3v1h-3zM1107 843h3v1h-3zM1113 843h3v1h-3zM1119 843h3v1h-3zM1125 843h3v1h-3zM1131 843h3v1h-3zM1137 843h3v1h-3zM1143 843h3v1h-3zM1149 843h3v1h-3zM1155 843h3v1h-3zM1161 843h3v1h-3zM1167 843h3v1h-3zM1173 843h3v1h-3zM1179 843h3v1h-3zM1185 843h3v1h-3zM1191 843h3v1h-3zM1197 843h3v1h-3zM1203 843h3v1h-3zM1209 843h3v1h-3zM1215 843h3v1h-3zM1221 843h3v1h-3zM1227 843h3v1h-3zM1233 843h3v1h-3zM1239 843h3v1h-3zM1245 843h3v1h-3zM1251 843h3v1h-3zM1257 843h3v1h-3zM1263 843h3v1h-3zM1269 843h3v1h-3zM1275 843h3v1h-3zM1281 843h3v1h-3zM1287 843h3v1h-3zM1293 843h3v1h-3zM1299 843h3v1h-3zM1305 843h3v1h-3zM1311 843h3v1h-3zM1317 843h3v1h-3zM1323 843h3v1h-3zM1329 843h3v1h-3zM1335 843h3v1h-3zM1341 843h3v1h-3zM1347 843h3v1h-3zM1353 843h3v1h-3zM1359 843h3v1h-3zM1365 843h3v1h-3zM1371 843h3v1h-3zM1377 843h3v1h-3zM1383 843h3v1h-3zM1389 843h3v1h-3zM1395 843h3v1h-3zM1401 843h3v1h-3zM1407 843h3v1h-3zM1413 843h3v1h-3zM1419 843h3v1h-3zM1425 843h3v1h-3zM1431 843h3v1h-3zM1437 843h3v1h-3zM1443 843h3v1h-3zM1449 843h3v1h-3zM1455 843h3v1h-3zM1461 843h3v1h-3zM1467 843h3v1h-3zM1473 843h3v1h-3zM1479 843h3v1h-3zM1485 843h3v1h-3zM1491 843h3v1h-3zM1497 843h3v1h-3zM1503 843h3v1h-3zM1509 843h3v1h-3zM1515 843h3v1h-3zM1521 843h3v1h-3zM1527 843h3v1h-3zM1533 843h3v1h-3zM1539 843h3v1h-3zM1545 843h3v1h-3zM1551 843h3v1h-3zM1557 843h3v1h-3zM1563 843h3v1h-3zM1569 843h3v1h-3zM1575 843h3v1h-3zM1581 843h3v1h-3zM1587 843h3v1h-3zM1593 843h3v1h-3zM1599 843h3v1h-3zM1605 843h3v1h-3zM1611 843h3v1h-3zM1617 843h3v1h-3zM1623 843h3v1h-3zM1629 843h3v1h-3zM1635 843h3v1h-3zM1641 843h3v1h-3zM1647 843h3v1h-3zM1653 843h3v1h-3zM1659 843h3v1h-3zM1665 843h3v1h-3zM1671 843h3v1h-3zM1677 843h3v1h-3zM1683 843h3v1h-3zM3 904h3v1h-3zM9 904h3v1h-3zM15 904h3v1h-3zM21 904h3v1h-3zM27 904h3v1h-3zM33 904h3v1h-3zM39 904h3v1h-3zM45 904h3v1h-3zM51 904h3v1h-3zM57 904h3v1h-3zM63 904h3v1h-3zM69 904h3v1h-3zM75 904h3v1h-3zM81 904h3v1h-3zM87 904h3v1h-3zM93 904h3v1h-3zM99 904h3v1h-3zM105 904h3v1h-3zM111 904h3v1h-3zM117 904h3v1h-3zM123 904h3v1h-3zM129 904h3v1h-3zM135 904h3v1h-3zM141 904h3v1h-3zM147 904h3v1h-3zM153 904h3v1h-3zM159 904h3v1h-3zM165 904h3v1h-3zM171 904h3v1h-3zM177 904h3v1h-3zM183 904h3v1h-3zM189 904h3v1h-3zM195 904h3v1h-3zM201 904h3v1h-3zM207 904h3v1h-3zM213 904h3v1h-3zM219 904h3v1h-3zM225 904h3v1h-3zM231 904h3v1h-3zM237 904h3v1h-3zM243 904h3v1h-3zM249 904h3v1h-3zM255 904h3v1h-3zM261 904h3v1h-3zM267 904h3v1h-3zM273 904h3v1h-3zM279 904h3v1h-3zM285 904h3v1h-3zM291 904h3v1h-3zM297 904h3v1h-3zM303 904h3v1h-3zM309 904h3v1h-3zM315 904h3v1h-3zM321 904h3v1h-3zM327 904h3v1h-3zM333 904h3v1h-3zM339 904h3v1h-3zM345 904h3v1h-3zM351 904h3v1h-3zM357 904h3v1h-3zM363 904h3v1h-3zM369 904h3v1h-3zM375 904h3v1h-3zM381 904h3v1h-3zM387 904h3v1h-3zM393 904h3v1h-3zM399 904h3v1h-3zM405 904h3v1h-3zM411 904h3v1h-3zM417 904h3v1h-3zM423 904h3v1h-3zM429 904h3v1h-3zM435 904h3v1h-3zM441 904h3v1h-3zM447 904h3v1h-3zM453 904h3v1h-3zM459 904h3v1h-3zM465 904h3v1h-3zM471 904h3v1h-3zM477 904h3v1h-3zM483 904h3v1h-3zM489 904h3v1h-3zM495 904h3v1h-3zM501 904h3v1h-3zM507 904h3v1h-3zM513 904h3v1h-3zM519 904h3v1h-3zM525 904h3v1h-3zM531 904h3v1h-3zM537 904h3v1h-3zM543 904h3v1h-3zM549 904h3v1h-3zM555 904h3v1h-3zM561 904h3v1h-3zM567 904h3v1h-3zM573 904h3v1h-3zM579 904h3v1h-3zM585 904h3v1h-3zM591 904h3v1h-3zM597 904h3v1h-3zM603 904h3v1h-3zM609 904h3v1h-3zM615 904h3v1h-3zM621 904h3v1h-3zM627 904h3v1h-3zM633 904h3v1h-3zM639 904h3v1h-3zM645 904h3v1h-3zM651 904h3v1h-3zM657 904h3v1h-3zM663 904h3v1h-3zM669 904h3v1h-3zM675 904h3v1h-3zM681 904h3v1h-3zM687 904h3v1h-3zM693 904h3v1h-3zM699 904h3v1h-3zM705 904h3v1h-3zM711 904h3v1h-3zM717 904h3v1h-3zM723 904h3v1h-3zM729 904h3v1h-3zM735 904h3v1h-3zM741 904h3v1h-3zM747 904h3v1h-3zM753 904h3v1h-3zM759 904h3v1h-3zM765 904h3v1h-3zM771 904h3v1h-3zM777 904h3v1h-3zM783 904h3v1h-3zM789 904h3v1h-3zM795 904h3v1h-3zM801 904h3v1h-3zM807 904h3v1h-3zM813 904h3v1h-3zM819 904h3v1h-3zM825 904h3v1h-3zM831 904h3v1h-3zM837 904h3v1h-3zM843 904h3v1h-3zM849 904h3v1h-3zM855 904h3v1h-3zM861 904h3v1h-3zM867 904h3v1h-3zM873 904h3v1h-3zM879 904h3v1h-3zM885 904h3v1h-3zM891 904h3v1h-3zM897 904h3v1h-3zM903 904h3v1h-3zM909 904h3v1h-3zM915 904h3v1h-3zM921 904h3v1h-3zM927 904h3v1h-3zM933 904h3v1h-3zM939 904h3v1h-3zM945 904h3v1h-3zM951 904h3v1h-3zM957 904h3v1h-3zM963 904h3v1h-3zM969 904h3v1h-3zM975 904h3v1h-3zM981 904h3v1h-3zM987 904h3v1h-3zM993 904h3v1h-3zM999 904h3v1h-3zM1005 904h3v1h-3zM1011 904h3v1h-3zM1017 904h3v1h-3zM1023 904h3v1h-3zM1029 904h3v1h-3zM1035 904h3v1h-3zM1041 904h3v1h-3zM1047 904h3v1h-3zM1053 904h3v1h-3zM1059 904h3v1h-3zM1065 904h3v1h-3zM1071 904h3v1h-3zM1077 904h3v1h-3zM1083 904h3v1h-3zM1089 904h3v1h-3zM1095 904h3v1h-3zM1101 904h3v1h-3zM1107 904h3v1h-3zM1113 904h3v1h-3zM1119 904h3v1h-3zM1125 904h3v1h-3zM1131 904h3v1h-3zM1137 904h3v1h-3zM1143 904h3v1h-3zM1149 904h3v1h-3zM1155 904h3v1h-3zM1161 904h3v1h-3zM1167 904h3v1h-3zM1173 904h3v1h-3zM1179 904h3v1h-3zM1185 904h3v1h-3zM1191 904h3v1h-3zM1197 904h3v1h-3zM1203 904h3v1h-3zM1209 904h3v1h-3zM1215 904h3v1h-3zM1221 904h3v1h-3zM1227 904h3v1h-3zM1233 904h3v1h-3zM1239 904h3v1h-3zM1245 904h3v1h-3zM1251 904h3v1h-3zM1257 904h3v1h-3zM1263 904h3v1h-3zM1269 904h3v1h-3zM1275 904h3v1h-3zM1281 904h3v1h-3zM1287 904h3v1h-3zM1293 904h3v1h-3zM1299 904h3v1h-3zM1305 904h3v1h-3zM1311 904h3v1h-3zM1317 904h3v1h-3zM1323 904h3v1h-3zM1329 904h3v1h-3zM1335 904h3v1h-3zM1341 904h3v1h-3zM1347 904h3v1h-3zM1353 904h3v1h-3zM1359 904h3v1h-3zM1365 904h3v1h-3zM1371 904h3v1h-3zM1377 904h3v1h-3zM1383 904h3v1h-3zM1389 904h3v1h-3zM1395 904h3v1h-3zM1401 904h3v1h-3zM1407 904h3v1h-3zM1413 904h3v1h-3zM1419 904h3v1h-3zM1425 904h3v1h-3zM1431 904h3v1h-3zM1437 904h3v1h-3zM1443 904h3v1h-3zM1449 904h3v1h-3zM1455 904h3v1h-3zM1461 904h3v1h-3zM1467 904h3v1h-3zM1473 904h3v1h-3zM1479 904h3v1h-3zM1485 904h3v1h-3zM1491 904h3v1h-3zM1497 904h3v1h-3zM1503 904h3v1h-3zM1509 904h3v1h-3zM1515 904h3v1h-3zM1521 904h3v1h-3zM1527 904h3v1h-3zM1533 904h3v1h-3zM1539 904h3v1h-3zM1545 904h3v1h-3zM1551 904h3v1h-3zM1557 904h3v1h-3zM1563 904h3v1h-3zM1569 904h3v1h-3zM1575 904h3v1h-3zM1581 904h3v1h-3zM1587 904h3v1h-3zM1593 904h3v1h-3zM1599 904h3v1h-3zM1605 904h3v1h-3zM1611 904h3v1h-3zM1617 904h3v1h-3zM1623 904h3v1h-3zM1629 904h3v1h-3zM1635 904h3v1h-3zM1641 904h3v1h-3zM1647 904h3v1h-3zM1653 904h3v1h-3zM1659 904h3v1h-3zM1665 904h3v1h-3zM1671 904h3v1h-3zM1677 904h3v1h-3zM1683 904h3v1h-3z" fill="#c0c0c0"/>
<clipPath id="c3"><rect x="0" y="757" width="1687" height="173"/></clipPath>
<g clip-path="url(#c3)"><path d="M0 796h1v2h-1zM1 798h1v3h-1zM2 801h1v3h-1zM3 804h1v3h-1zM4 807h1v2h-1zM5 808h4v1h-4zM9 807h4v1h-4zM13 808h2v1h-2zM15 809h1v1h-1zM16 810h1v1h-1zM17 811h2v1h-2zM19 812h1v1h-1zM20 813h1v2h-1zM21 815h1v2h-1zM22 817h1v3h-1zM23 820h1v2h-1zM24 822h1v3h-1zM25 825h1v2h-1zM26 827h1v3h-1zM27 830h1v2h-1zM28 832h1v2h-1zM29 833h1v1h-1zM30 834h3v1h-3zM33 835h2v1h-2zM35 836h2v1h-2zM37 837h1v1h-1zM38 838h1v1h-1zM39 839h1v1h-1zM40 840h1v2h-1zM41 842h1v1h-1zM42 843h1v1h-1zM43 844h1v1h-1zM44 845h5v1h-5zM49 844h8v1h-8zM57 845h4v1h-4zM61 846h1v1h-1zM62 847h1v1h-1zM63 848h1v1h-1zM64 849h1v1h-1zM65 850h1v1h-1zM66 851h1v1h-1zM67 852h1v1h-1zM68 853h3v1h-3zM71 854h4v1h-4zM75 855h2v1h-2zM77 854h2v1h-2zM79 853h1v1h-1zM80 852h1v1h-1zM81 851h2v1h-2zM83 850h1v1h-1zM84 849h1v1h-1zM85 848h1v1h-1zM86 847h1v1h-1zM87 846h2v1h-2zM89 845h1v1h-1zM90 844h1v1h-1zM91 843h1v1h-1zM92 842h1v1h-1zM93 841h1v1h-1zM94 840h1v1h-1zM95 839h1v1h-1zM96 838h1v1h-1zM97 837h1v1h-1zM98 836h1v1h-1zM99 835h1v1h-1zM100 834h5v1h-5zM105 835h4v1h-4zM109 836h2v1h-2zM111 837h1v1h-1zM112 838h1v1h-1zM113 839h2v1h-2zM115 840h1v1h-1zM116 841h1v1h-1zM117 839h1v2h-1zM118 838h1v1h-1zM119 836h1v2h-1zM120 835h1v1h-1zM121 833h1v2h-1zM122 832h1v1h-1zM123 830h1v2h-1zM124 829h5v1h-5zM129 828h4v1h-4zM132 829h1v1h-1zM133 830h1v2h-1zM134 832h1v2h-1zM135 834h1v2h-1zM136 836h1v2h-1zM137 838h1v2h-1zM138 840h1v2h-1zM139 842h1v2h-1zM140 844h1v1h-1zM141 845h1v2h-1zM142 847h1v1h-1zM143 848h1v2h-1zM144 850h1v1h-1zM145 851h1v2h-1zM146 853h1v1h-1zM147 854h1v2h-1zM148 856h9v1h-9zM157 854h1v2h-1zM158 852h1v2h-1zM159 850h1v2h-1zM160 848h1v2h-1zM161 846h1v2h-1zM162 844h1v2h-1zM163 842h1v2h-1zM164 841h1v1h-1zM165 842h1v1h-1zM166 843h1v2h-1zM167 845h1v1h-1zM168 846h1v1h-1zM169 847h1v1h-1zM170 848h1v2h-1zM171 850h1v1h-1zM172 851h1v1h-1zM173 849h1v2h-1zM174 848h1v1h-1zM175 847h1v1h-1zM176 845h1v2h-1zM177 844h1v1h-1zM178 843h1v1h-1zM179 841h1v2h-1zM180 840h3v1h-3zM183 839h4v1h-4zM187 838h6v1h-6zM193 839h8v1h-8zM201 840h16v1h-16zM217 839h5v1h-5zM222 838h3v1h-3zM225 837h2v1h-2zM227 836h2v1h-2zM229 835h1v1h-1zM230 834h1v1h-1zM231 833h1v1h-1zM232 832h1v1h-1zM233 831h1v1h-1zM234 830h1v1h-1zM235 829h1v1h-1zM236 828h1v1h-1zM237 829h1v1h-1zM238 830h1v1h-1zM239 831h1v1h-1zM240 832h1v2h-1zM241 834h1v1h-1zM242 835h1v1h-1zM243 836h1v1h-1zM244 837h5v1h-5zM249 838h8v1h-8zM257 839h6v1h-6zM263 838h4v1h-4zM267 837h2v1h-2zM269 836h1v1h-1zM270 835h1v1h-1zM271 834h1v1h-1zM272 832h1v2h-1zM273 831h1v1h-1zM274 830h1v1h-1zM275 829h1v1h-1zM276 828h1v1h-1zM277 829h1v1h-1zM278 830h1v1h-1zM279 831h2v1h-2zM281 832h1v1h-1zM282 833h1v1h-1zM283 834h1v1h-1zM284 835h1v1h-1zM285 836h1v1h-1zM286 837h1v2h-1zM287 839h1v1h-1zM288 840h1v1h-1zM289 841h1v1h-1zM290 842h1v2h-1zM291 844h1v1h-1zM292 845h1v1h-1zM293 846h1v1h-1zM294 847h1v1h-1zM295 848h1v1h-1zM296 849h1v2h-1zM297 851h1v1h-1zM298 852h1v1h-1zM299 853h1v1h-1zM300 854h2v1h-2zM302 853h3v1h-3zM305 852h2v1h-2zM307 851h4v1h-4zM311 852h4v1h-4zM315 853h3v1h-3zM318 854h3v1h-3zM321 855h2v1h-2zM323 856h2v1h-2zM325 855h1v1h-1zM326 854h1v1h-1zM327 853h1v1h-1zM328 851h1v2h-1zM329 850h1v1h-1zM330 849h1v1h-1zM331 848h1v1h-1zM332 847h1v1h-1zM333 846h1v1h-1zM334 845h1v1h-1zM335 844h2v1h-2zM337 843h1v1h-1zM338 842h1v1h-1zM339 841h1v1h-1zM340 840h3v1h-3zM343 841h4v1h-4zM347 842h2v1h-2zM348 843h1v1h-1zM349 844h1v2h-1zM350 846h1v2h-1zM351 848h1v3h-1zM352 851h1v2h-1zM353 853h1v3h-1zM354 856h1v2h-1zM355 858h1v2h-1zM356 860h1v2h-1zM357 858h1v2h-1zM358 856h1v2h-1zM359 854h1v2h-1zM360 852h1v2h-1zM361 850h1v2h-1zM362 848h1v2h-1zM363 846h1v2h-1zM364 844h5v1h-5zM364 845h1v1h-1zM369 843h4v1h-4zM373 844h2v1h-2zM375 845h2v1h-2zM377 846h1v1h-1zM378 847h2v1h-2zM380 848h1v1h-1zM381 849h1v1h-1zM382 850h1v1h-1zM383 851h1v1h-1zM384 852h1v1h-1zM385 853h1v1h-1zM386 854h1v1h-1zM387 855h1v1h-1zM388 856h5v1h-5zM393 857h4v1h-4zM397 856h2v1h-2zM399 855h1v1h-1zM400 854h1v1h-1zM401 853h2v1h-2zM403 852h1v1h-1zM404 851h1v1h-1zM405 850h1v1h-1zM406 849h1v1h-1zM407 848h2v1h-2zM409 847h1v1h-1zM410 846h1v1h-1zM411 845h1v1h-1zM412 844h9v1h-9zM421 843h1v1h-1zM422 841h1v2h-1zM423 840h1v1h-1zM424 839h1v1h-1zM425 838h1v1h-1zM426 836h1v2h-1zM427 835h1v1h-1zM428 834h3v1h-3zM431 835h4v1h-4zM435 836h3v1h-3zM438 835h3v1h-3zM441 834h2v1h-2zM443 833h2v1h-2zM445 834h1v1h-1zM446 835h1v1h-1zM447 836h2v1h-2zM449 837h1v1h-1zM450 838h1v1h-1zM451 839h1v1h-1zM452 840h9v1h-9zM461 838h1v2h-1zM462 837h1v1h-1zM463 836h1v1h-1zM464 834h1v2h-1zM465 833h1v1h-1zM466 832h1v1h-1zM467 830h1v2h-1zM468 829h1v1h-1zM469 828h2v1h-2zM471 827h2v1h-2zM473 826h1v1h-1zM474 825h2v1h-2zM476 824h1v1h-1zM477 823h2v1h-2zM479 822h2v1h-2zM481 821h1v1h-1zM482 820h2v1h-2zM484 819h1v1h-1zM485 820h2v1h-2zM487 821h2v1h-2zM489 822h1v1h-1zM490 823h2v1h-2zM492 824h1v2h-1zM493 826h1v2h-1zM494 828h1v2h-1zM495 830h1v2h-1zM496 832h1v2h-1zM497 834h1v2h-1zM498 836h1v2h-1zM499 838h1v2h-1zM500 840h1v2h-1zM501 841h2v1h-2zM503 840h4v1h-4zM507 839h2v1h-2zM509 840h1v2h-1zM510 842h1v1h-1zM511 843h1v1h-1zM512 844h1v2h-1zM513 846h1v1h-1zM514 847h1v1h-1zM515 848h1v2h-1zM516 850h1v1h-1zM517 851h1v2h-1zM518 853h1v1h-1zM519 854h1v2h-1zM520 856h1v1h-1zM521 857h1v2h-1zM522 859h1v1h-1zM523 860h1v2h-1zM524 862h1v2h-1zM525 864h1v2h-1zM526 866h1v2h-1zM527 868h1v3h-1zM528 871h1v2h-1zM529 873h1v3h-1zM530 876h1v2h-1zM531 878h1v2h-1zM532 880h1v2h-1zM533 881h4v1h-4zM537 882h4v1h-4zM541 881h1v1h-1zM542 880h1v1h-1zM543 879h1v1h-1zM544 878h1v1h-1zM545 877h1v1h-1zM546 876h1v1h-1zM547 875h1v1h-1zM548 874h1v1h-1zM549 875h2v1h-2zM551 876h1v1h-1zM552 877h1v1h-1zM553 878h2v1h-2zM555 879h1v1h-1zM556 880h1v1h-1zM557 878h1v2h-1zM558 876h1v2h-1zM559 874h1v2h-1zM560 872h1v2h-1zM561 870h1v2h-1zM562 868h1v2h-1zM563 866h1v2h-1zM564 865h1v1h-1zM565 866h2v1h-2zM567 867h1v1h-1zM568 868h1v1h-1zM569 869h2v1h-2zM571 870h1v1h-1zM572 871h2v1h-2zM574 872h3v1h-3zM577 873h2v1h-2zM579 874h3v1h-3zM582 875h2v1h-2zM584 876h2v1h-2zM586 877h2v1h-2zM588 878h1v1h-1zM589 879h2v1h-2zM591 880h1v1h-1zM592 881h1v1h-1zM593 882h2v1h-2zM595 883h1v1h-1zM596 884h1v1h-1zM597 883h1v1h-1zM598 882h1v1h-1zM599 881h1v1h-1zM600 879h1v2h-1zM601 878h1v1h-1zM602 877h1v1h-1zM603 876h1v1h-1zM604 875h1v1h-1zM605 876h1v1h-1zM606 877h1v1h-1zM607 878h2v1h-2zM609 879h1v1h-1zM610 880h1v1h-1zM611 881h1v1h-1zM612 882h1v1h-1zM613 883h1v1h-1zM614 884h1v1h-1zM615 885h2v1h-2zM617 886h1v1h-1zM618 887h1v1h-1zM619 888h1v1h-1zM620 889h1v1h-1zM621 887h1v2h-1zM622 885h1v2h-1zM623 884h1v1h-1zM624 882h1v2h-1zM625 881h1v1h-1zM626 879h1v2h-1zM627 877h1v2h-1zM628 876h2v1h-2zM630 877h2v1h-2zM632 878h2v1h-2zM634 879h2v1h-2zM636 880h1v1h-1zM637 881h2v1h-2zM639 882h2v1h-2zM641 883h1v1h-1zM642 884h2v1h-2zM644 885h5v1h-5zM649 886h4v1h-4zM653 887h1v1h-1zM654 888h1v2h-1zM655 890h1v1h-1zM656 891h1v1h-1zM657 892h1v1h-1zM658 893h1v2h-1zM659 895h2v1h-2zM660 896h1v1h-1zM661 893h1v2h-1zM662 891h1v2h-1zM663 889h1v2h-1zM664 887h1v2h-1zM665 885h1v2h-1zM666 883h1v2h-1zM667 881h1v2h-1zM668 880h1v1h-1zM669 879h2v1h-2zM671 878h2v1h-2zM673 877h1v1h-1zM674 876h2v1h-2zM676 875h3v1h-3zM679 876h4v1h-4zM683 877h4v1h-4zM687 876h4v1h-4zM691 875h2v1h-2zM692 874h1v1h-1zM693 872h1v2h-1zM694 870h1v2h-1zM695 868h1v2h-1zM696 866h1v2h-1zM697 864h1v2h-1zM698 862h1v2h-1zM699 860h1v2h-1zM700 858h3v1h-3zM700 859h1v1h-1zM703 857h4v1h-4zM707 856h2v1h-2zM709 855h1v1h-1zM710 853h1v2h-1zM711 852h1v1h-1zM712 851h1v1h-1zM713 850h1v1h-1zM714 848h1v2h-1zM715 847h1v1h-1zM716 846h1v1h-1zM717 845h1v1h-1zM718 844h1v1h-1zM719 843h2v1h-2zM721 842h1v1h-1zM722 841h1v1h-1zM723 840h1v1h-1zM724 839h2v1h-2zM726 840h3v1h-3zM729 841h2v1h-2zM731 842h6v1h-6zM737 843h6v1h-6zM743 844h4v1h-4zM747 845h3v1h-3zM750 846h3v1h-3zM753 847h2v1h-2zM755 848h2v1h-2zM757 847h1v1h-1zM758 846h1v1h-1zM759 845h2v1h-2zM761 844h1v1h-1zM762 843h1v1h-1zM763 842h1v1h-1zM764 841h1v1h-1zM765 842h1v1h-1zM766 843h1v1h-1zM767 844h2v1h-2zM769 845h1v1h-1zM770 846h1v1h-1zM771 847h1v1h-1zM772 848h9v1h-9zM781 847h2v1h-2zM783 846h2v1h-2zM785 845h1v1h-1zM786 844h2v1h-2zM788 843h2v1h-2zM790 842h2v1h-2zM792 841h2v1h-2zM794 840h2v1h-2zM796 839h1v1h-1zM797 838h2v1h-2zM799 837h1v1h-1zM800 836h1v1h-1zM801 835h2v1h-2zM803 834h1v1h-1zM804 833h13v1h-13zM817 834h6v1h-6zM823 835h4v1h-4zM827 836h3v1h-3zM830 835h2v1h-2zM832 834h2v1h-2zM834 833h2v1h-2zM836 832h1v1h-1zM837 833h2v1h-2zM839 834h2v1h-2zM841 835h1v1h-1zM842 836h2v1h-2zM844 837h10v1h-10zM854 838h2v1h-2zM856 839h2v1h-2zM858 840h2v1h-2zM860 841h5v1h-5zM865 840h4v1h-4zM869 841h2v1h-2zM871 842h2v1h-2zM873 843h1v1h-1zM874 844h2v1h-2zM876 845h1v1h-1zM877 846h1v2h-1zM878 848h1v2h-1zM879 850h1v1h-1zM880 851h1v2h-1zM881 853h1v1h-1zM882 854h1v2h-1zM883 856h1v2h-1zM884 858h2v1h-2zM886 857h2v1h-2zM888 856h2v1h-2zM890 855h2v1h-2zM892 854h5v1h-5zM897 853h6v1h-6zM903 854h4v1h-4zM907 855h3v1h-3zM910 854h3v1h-3zM913 853h2v1h-2zM915 852h3v1h-3zM918 851h2v1h-2zM920 850h2v1h-2zM922 849h2v1h-2zM924 848h1v1h-1zM925 849h2v1h-2zM927 850h1v1h-1zM928 851h1v1h-1zM929 852h2v1h-2zM931 853h1v1h-1zM932 854h2v1h-2zM934 853h3v1h-3zM937 852h2v1h-2zM939 851h2v1h-2zM940 850h1v1h-1zM941 847h1v3h-1zM942 845h1v2h-1zM943 842h1v3h-1zM944 839h1v3h-1zM945 836h1v3h-1zM946 834h1v2h-1zM947 831h1v3h-1zM948 829h1v2h-1zM949 831h1v2h-1zM950 833h1v2h-1zM951 835h1v2h-1zM952 837h1v2h-1zM953 839h1v2h-1zM954 841h1v2h-1zM955 843h1v2h-1zM956 845h1v1h-1zM957 846h2v1h-2zM959 847h2v1h-2zM961 848h1v1h-1zM962 849h2v1h-2zM964 850h5v1h-5zM969 851h5v1h-5zM974 852h3v1h-3zM977 853h2v1h-2zM979 854h2v1h-2zM981 855h1v2h-1zM982 857h1v1h-1zM983 858h1v2h-1zM984 860h1v1h-1zM985 861h1v2h-1zM986 863h1v1h-1zM987 864h1v2h-1zM988 866h1v1h-1zM989 865h1v1h-1zM990 864h1v1h-1zM991 863h1v1h-1zM992 862h1v1h-1zM993 861h1v1h-1zM994 860h1v1h-1zM995 859h1v1h-1zM996 858h1v1h-1zM997 857h1v1h-1zM998 856h1v1h-1zM999 855h1v1h-1zM1000 854h1v1h-1zM1001 853h1v1h-1zM1002 852h1v1h-1zM1003 851h1v1h-1zM1004 850h2v1h-2zM1006 849h2v1h-2zM1008 848h2v1h-2zM1010 847h2v1h-2zM1012 846h5v1h-5zM1017 847h4v1h-4zM1021 848h1v2h-1zM1022 850h1v1h-1zM1023 851h1v2h-1zM1024 853h1v1h-1zM1025 854h1v2h-1zM1026 856h1v1h-1zM1027 857h1v2h-1zM1028 859h2v1h-2zM1030 860h3v1h-3zM1033 861h2v1h-2zM1035 862h2v1h-2zM1037 861h2v1h-2zM1039 860h1v1h-1zM1040 859h1v1h-1zM1041 858h2v1h-2zM1043 857h1v1h-1zM1044 856h1v1h-1zM1045 857h1v1h-1zM1046 858h1v2h-1zM1047 860h1v1h-1zM1048 861h1v1h-1zM1049 862h1v1h-1zM1050 863h1v2h-1zM1051 865h1v1h-1zM1052 866h2v1h-2zM1054 867h3v1h-3zM1057 868h2v1h-2zM1059 869h2v1h-2zM1061 867h1v2h-1zM1062 865h1v2h-1zM1063 863h1v2h-1zM1064 861h1v2h-1zM1065 859h1v2h-1zM1066 857h1v2h-1zM1067 855h1v2h-1zM1068 854h1v1h-1zM1069 852h1v2h-1zM1070 851h1v1h-1zM1071 850h1v1h-1zM1072 848h1v2h-1zM1073 847h1v1h-1zM1074 846h1v1h-1zM1075 844h1v2h-1zM1076 843h1v1h-1zM1077 844h2v1h-2zM1079 845h2v1h-2zM1081 846h1v1h-1zM1082 847h2v1h-2zM1084 848h9v1h-9zM1093 849h2v1h-2zM1095 850h2v1h-2zM1097 851h1v1h-1zM1098 852h2v1h-2zM1100 853h2v1h-2zM1102 852h2v1h-2zM1104 851h2v1h-2zM1106 850h2v1h-2zM1108 849h5v1h-5zM1113 848h4v1h-4zM1117 846h1v2h-1zM1118 845h1v1h-1zM1119 844h1v1h-1zM1120 842h1v2h-1zM1121 841h1v1h-1zM1122 840h1v1h-1zM1123 838h1v2h-1zM1124 837h2v1h-2zM1126 838h2v1h-2zM1128 839h2v1h-2zM1130 840h2v1h-2zM1132 841h2v1h-2zM1134 840h2v1h-2zM1136 839h2v1h-2zM1138 838h2v1h-2zM1140 837h3v1h-3zM1143 836h4v1h-4zM1147 835h6v1h-6zM1153 834h4v1h-4zM1157 832h1v2h-1zM1158 831h1v1h-1zM1159 829h1v2h-1zM1160 828h1v1h-1zM1161 826h1v2h-1zM1162 825h1v1h-1zM1163 823h1v2h-1zM1164 822h1v1h-1zM1165 820h1v2h-1zM1166 818h1v2h-1zM1167 816h1v2h-1zM1168 814h1v2h-1zM1169 812h1v2h-1zM1170 810h1v2h-1zM1171 808h1v2h-1zM1172 807h5v1h-5zM1177 806h5v1h-5zM1182 805h3v1h-3zM1185 804h2v1h-2zM1187 803h2v1h-2zM1189 802h2v1h-2zM1191 801h2v1h-2zM1193 800h1v1h-1zM1194 799h2v1h-2zM1196 798h3v1h-3zM1199 797h4v1h-4zM1203 796h2v1h-2zM1204 797h1v1h-1zM1205 798h1v2h-1zM1206 800h1v2h-1zM1207 802h1v2h-1zM1208 804h1v2h-1zM1209 806h1v2h-1zM1210 808h1v2h-1zM1211 810h1v2h-1zM1212 812h1v1h-1zM1213 813h1v2h-1zM1214 815h1v1h-1zM1215 816h1v1h-1zM1216 817h1v2h-1zM1217 819h1v1h-1zM1218 820h1v1h-1zM1219 821h1v2h-1zM1220 823h1v1h-1zM1221 824h1v1h-1zM1222 825h1v1h-1zM1223 826h1v1h-1zM1224 827h1v2h-1zM1225 829h1v1h-1zM1226 830h1v1h-1zM1227 831h1v1h-1zM1228 832h1v1h-1zM1229 833h1v2h-1zM1230 835h1v2h-1zM1231 837h1v2h-1zM1232 839h1v1h-1zM1233 840h1v2h-1zM1234 842h1v2h-1zM1235 844h1v2h-1zM1236 846h17v1h-17zM1253 844h1v2h-1zM1254 843h1v1h-1zM1255 841h1v2h-1zM1256 840h1v1h-1zM1257 838h1v2h-1zM1258 837h1v1h-1zM1259 835h1v2h-1zM1260 834h1v1h-1zM1261 835h2v1h-2zM1263 836h1v1h-1zM1264 837h1v1h-1zM1265 838h2v1h-2zM1267 839h1v1h-1zM1268 840h1v1h-1zM1269 841h1v1h-1zM1270 842h1v1h-1zM1271 843h2v1h-2zM1273 844h1v1h-1zM1274 845h1v1h-1zM1275 846h1v1h-1zM1276 847h1v1h-1zM1277 848h1v1h-1zM1278 849h1v1h-1zM1279 850h1v1h-1zM1280 851h1v1h-1zM1281 852h1v1h-1zM1282 853h1v1h-1zM1283 854h1v1h-1zM1284 855h1v1h-1zM1285 856h2v1h-2zM1287 857h1v1h-1zM1288 858h1v1h-1zM1289 859h2v1h-2zM1291 860h1v1h-1zM1292 861h5v1h-5zM1297 862h4v1h-4zM1301 860h1v2h-1zM1302 858h1v2h-1zM1303 856h1v2h-1zM1304 854h1v2h-1zM1305 852h1v2h-1zM1306 850h1v2h-1zM1307 848h1v2h-1zM1308 847h3v1h-3zM1311 848h4v1h-4zM1315 849h3v1h-3zM1318 850h3v1h-3zM1321 851h2v1h-2zM1323 852h4v1h-4zM1327 851h4v1h-4zM1331 850h2v1h-2zM1333 851h2v1h-2zM1335 852h1v1h-1zM1336 853h1v1h-1zM1337 854h2v1h-2zM1339 855h1v1h-1zM1340 856h5v1h-5zM1345 855h8v1h-8zM1353 854h4v1h-4zM1357 852h1v2h-1zM1358 850h1v2h-1zM1359 848h1v2h-1zM1360 847h1v1h-1zM1361 845h1v2h-1zM1362 843h1v2h-1zM1363 841h1v2h-1zM1364 840h13v1h-13zM1377 839h16v1h-16zM1393 838h8v1h-8zM1401 839h4v1h-4zM1405 838h1v1h-1zM1406 837h1v1h-1zM1407 836h1v1h-1zM1408 835h1v1h-1zM1409 834h1v1h-1zM1410 833h1v1h-1zM1411 832h1v1h-1zM1412 831h2v1h-2zM1414 830h2v1h-2zM1416 829h2v1h-2zM1418 828h2v1h-2zM1420 827h3v1h-3zM1423 828h4v1h-4zM1427 829h4v1h-4zM1431 830h4v1h-4zM1435 831h2v1h-2z" fill="#1e90ff"/></g>
<rect x="1688" y="758" width="2" height="1" fill="#000"/>
<rect x="1688" y="929" width="2" height="1" fill="#000"/>
</g>
<g font-family="Liberation Sans, sans-serif" font-size="9.9">
<text x="0.6" y="769.3" font-size="9.9" fill="#000" textLength="66" lengthAdjust="spacingAndGlyphs" >RSI(14) 57.3142</text>
<text x="1691.5" y="767" font-size="9.9" fill="#000" textLength="14.5" lengthAdjust="spacingAndGlyphs" >100</text>
<text x="1690.3" y="796" font-size="9.9" fill="#000" textLength="9.6" lengthAdjust="spacingAndGlyphs" >80</text>
<text x="1690.3" y="847" font-size="9.9" fill="#000" textLength="9.6" lengthAdjust="spacingAndGlyphs" >50</text>
<text x="1691.3" y="908" font-size="9.9" fill="#000" textLength="9.2" lengthAdjust="spacingAndGlyphs" >15</text>
<text x="1691" y="927.3" font-size="9.9" fill="#000" textLength="5" lengthAdjust="spacingAndGlyphs" >0</text>
</g>
<g shape-rendering="crispEdges">
<rect x="60" y="931" width="1" height="3" fill="#000"/>
<rect x="124" y="931" width="1" height="3" fill="#000"/>
<rect x="188" y="931" width="1" height="3" fill="#000"/>
<rect x="252" y="931" width="1" height="3" fill="#000"/>
<rect x="316" y="931" width="1" height="3" fill="#000"/>
<rect x="380" y="931" width="1" height="3" fill="#000"/>
<rect x="444" y="931" width="1" height="3" fill="#000"/>
<rect x="508" y="931" width="1" height="3" fill="#000"/>
<rect x="572" y="931" width="1" height="3" fill="#000"/>
<rect x="636" y="931" width="1" height="3" fill="#000"/>
<rect x="700" y="931" width="1" height="3" fill="#000"/>
<rect x="764" y="931" width="1" height="3" fill="#000"/>
<rect x="828" y="931" width="1" height="3" fill="#000"/>
<rect x="892" y="931" width="1" height="3" fill="#000"/>
<rect x="956" y="931" width="1" height="3" fill="#000"/>
<rect x="1020" y="931" width="1" height="3" fill="#000"/>
<rect x="1084" y="931" width="1" height="3" fill="#000"/>
<rect x="1148" y="931" width="1" height="3" fill="#000"/>
<rect x="1212" y="931" width="1" height="3" fill="#000"/>
<rect x="1276" y="931" width="1" height="3" fill="#000"/>
<rect x="1340" y="931" width="1" height="3" fill="#000"/>
<rect x="1404" y="931" width="1" height="3" fill="#000"/>
</g>
<g font-family="Liberation Sans, sans-serif" font-size="9.9">
<text x="-5.2" y="943.2" font-size="9.9" fill="#000" textLength="52.8" lengthAdjust="spacingAndGlyphs" >12 Dec 2019</text>
<text x="58.8" y="943.2" font-size="9.9" fill="#000" textLength="52.8" lengthAdjust="spacingAndGlyphs" >22 Dec 2019</text>
<text x="122.8" y="943.2" font-size="9.9" fill="#000" textLength="52.8" lengthAdjust="spacingAndGlyphs" >31 Dec 2019</text>
<text x="186.8" y="943.2" font-size="9.9" fill="#000" textLength="45.4" lengthAdjust="spacingAndGlyphs" >9 Jan 2020</text>
<text x="250.8" y="943.2" font-size="9.9" fill="#000" textLength="50.1" lengthAdjust="spacingAndGlyphs" >19 Jan 2020</text>
<text x="314.8" y="943.2" font-size="9.9" fill="#000" textLength="50.1" lengthAdjust="spacingAndGlyphs" >28 Jan 2020</text>
<text x="378.8" y="943.2" font-size="9.9" fill="#000" textLength="46.5" lengthAdjust="spacingAndGlyphs" >6 Feb 2020</text>
<text x="442.8" y="943.2" font-size="9.9" fill="#000" textLength="51.5" lengthAdjust="spacingAndGlyphs" >16 Feb 2020</text>
<text x="506.8" y="943.2" font-size="9.9" fill="#000" textLength="51.5" lengthAdjust="spacingAndGlyphs" >25 Feb 2020</text>
<text x="570.8" y="943.2" font-size="9.9" fill="#000" textLength="48.7" lengthAdjust="spacingAndGlyphs" >5 Mar 2020</text>
<text x="634.8" y="943.2" font-size="9.9" fill="#000" textLength="53.5" lengthAdjust="spacingAndGlyphs" >15 Mar 2020</text>
<text x="698.8" y="943.2" font-size="9.9" fill="#000" textLength="53.5" lengthAdjust="spacingAndGlyphs" >24 Mar 2020</text>
<text x="762.8" y="943.2" font-size="9.9" fill="#000" textLength="47.3" lengthAdjust="spacingAndGlyphs" >2 Apr 2020</text>
<text x="826.8" y="943.2" font-size="9.9" fill="#000" textLength="52.2" lengthAdjust="spacingAndGlyphs" >13 Apr 2020</text>
<text x="890.8" y="943.2" font-size="9.9" fill="#000" textLength="52.2" lengthAdjust="spacingAndGlyphs" >22 Apr 2020</text>
<text x="954.8" y="943.2" font-size="9.9" fill="#000" textLength="51.0" lengthAdjust="spacingAndGlyphs" >1 May 2020</text>
<text x="1018.8" y="943.2" font-size="9.9" fill="#000" textLength="56.0" lengthAdjust="spacingAndGlyphs" >11 May 2020</text>
<text x="1082.8" y="943.2" font-size="9.9" fill="#000" textLength="56.0" lengthAdjust="spacingAndGlyphs" >20 May 2020</text>
<text x="1146.8" y="943.2" font-size="9.9" fill="#000" textLength="56.0" lengthAdjust="spacingAndGlyphs" >29 May 2020</text>
<text x="1210.8" y="943.2" font-size="9.9" fill="#000" textLength="45.6" lengthAdjust="spacingAndGlyphs" >8 Jun 2020</text>
<text x="1274.8" y="943.2" font-size="9.9" fill="#000" textLength="50.4" lengthAdjust="spacingAndGlyphs" >17 Jun 2020</text>
<text x="1338.8" y="943.2" font-size="9.9" fill="#000" textLength="50.4" lengthAdjust="spacingAndGlyphs" >26 Jun 2020</text>
<text x="1402.8" y="943.2" font-size="9.9" fill="#000" textLength="42.8" lengthAdjust="spacingAndGlyphs" >6 Jul 2020</text>
</g>
<path d="M-0.5 40L2.6 36L6 40z" fill="#000"/>
<g font-family="Liberation Sans, sans-serif" font-size="9.9">
<text x="11.3" y="41" font-size="9.9" fill="#000" textLength="62.3" lengthAdjust="spacingAndGlyphs" >GBPJPY-,Daily</text>
<text x="80.6" y="41" font-size="9.9" fill="#000" textLength="32.1" lengthAdjust="spacingAndGlyphs" >135.172</text>
<text x="116.5" y="41" font-size="9.9" fill="#000" textLength="32.1" lengthAdjust="spacingAndGlyphs" >135.185</text>
<text x="152.5" y="41" font-size="9.9" fill="#000" textLength="32.1" lengthAdjust="spacingAndGlyphs" >134.270</text>
<text x="188.7" y="41" font-size="9.9" fill="#000" textLength="32.1" lengthAdjust="spacingAndGlyphs" >135.014</text>
</g>
<text x="1476.5" y="298" font-size="22" fill="#00ff00" textLength="112" lengthAdjust="spacingAndGlyphs" style="font-family:'Liberation Serif','Noto Serif CJK SC',serif">多空转折点</text>
<defs><linearGradient id="gb1" x1="0" y1="0" x2="0" y2="1"><stop offset="0" stop-color="#5252fa"/><stop offset="1" stop-color="#3232d8"/></linearGradient><linearGradient id="gb2" gradientUnits="userSpaceOnUse" x1="0" y1="74" x2="0" y2="113"><stop offset="0" stop-color="#3030d6"/><stop offset="0.5" stop-color="#1c1cc4"/><stop offset="1" stop-color="#0000a6"/></linearGradient><linearGradient id="gg" x1="0" y1="0" x2="0" y2="1"><stop offset="0" stop-color="#ececec"/><stop offset="0.45" stop-color="#dcdcdc"/><stop offset="0.5" stop-color="#cfcfcf"/><stop offset="1" stop-color="#c4c4c4"/></linearGradient></defs><g shape-rendering="crispEdges"><rect x="0" y="47" width="220" height="68" fill="#fff"/><rect x="0" y="49" width="51" height="25" fill="#2a2acc"/><rect x="0" y="50" width="50" height="23" fill="url(#gb1)"/><rect x="166" y="49" width="52" height="25" fill="#2a2acc"/><rect x="167" y="50" width="50" height="23" fill="url(#gb1)"/><rect x="0" y="74" width="108" height="39" fill="url(#gb2)"/><rect x="110" y="74" width="108" height="39" fill="url(#gb2)"/><rect x="51" y="73" width="57" height="1" fill="#2626c8"/><rect x="110" y="73" width="56" height="1" fill="#2626c8"/><rect x="107" y="74" width="1" height="39" fill="#1414a8"/><rect x="217" y="74" width="1" height="39" fill="#1414a8"/><rect x="3" y="73" width="44" height="1" fill="#7878f4"/><rect x="170" y="73" width="44" height="1" fill="#7878f4"/><rect x="53.5" y="49.5" width="110" height="21" fill="#fff" stroke="#a4a4ac"/><rect x="54.5" y="50.5" width="19" height="19" fill="url(#gg)" stroke="#e6e6e6"/><rect x="142.5" y="50.5" width="20" height="19" fill="url(#gg)" stroke="#e6e6e6"/><rect x="74" y="50" width="1" height="20" fill="#b4b4bc"/><rect x="142" y="50" width="1" height="20" fill="#b4b4bc"/></g><path d="M60.8 58h5.4l-2.7 3z" fill="#4a62c0"/><path d="M150 61h5.4l-2.7-3z" fill="#4a62c0"/><g font-family="Liberation Sans, sans-serif"><text x="11.8" y="65.1" font-size="12" fill="#fff" textLength="25" lengthAdjust="spacingAndGlyphs" >SELL</text><text x="179.6" y="65.1" font-size="12" fill="#fff" textLength="23.2" lengthAdjust="spacingAndGlyphs" >BUY</text><text x="115.8" y="64" font-size="12" fill="#000" textLength="23" lengthAdjust="spacingAndGlyphs" >1.00</text><text x="22.6" y="104" font-size="12" fill="#fff" textLength="19.8" lengthAdjust="spacingAndGlyphs" font-weight="bold" >135</text><text x="132.8" y="104" font-size="12" fill="#fff" textLength="19.8" lengthAdjust="spacingAndGlyphs" font-weight="bold" >135</text><text x="46.5" y="104.3" font-size="35" fill="#fff" textLength="34.5" lengthAdjust="spacingAndGlyphs" stroke="url(#gb2)" stroke-width="0.5">01</text><text x="157.8" y="104.3" font-size="35" fill="#fff" textLength="33.5" lengthAdjust="spacingAndGlyphs" stroke="url(#gb2)" stroke-width="0.5">05</text><text x="85.8" y="88" font-size="12" fill="#fff" textLength="7" lengthAdjust="spacingAndGlyphs" font-weight="bold" >4</text><text x="197" y="88" font-size="12" fill="#fff" textLength="7" lengthAdjust="spacingAndGlyphs" font-weight="bold" >0</text></g>
<defs><radialGradient id="gplus" cx="0.45" cy="0.4" r="0.6"><stop offset="0" stop-color="#6cf46c"/><stop offset="1" stop-color="#14b41c"/></radialGradient><linearGradient id="gold" x1="0" y1="0" x2="1" y2="1"><stop offset="0" stop-color="#f8d860"/><stop offset="1" stop-color="#c88c18"/></linearGradient><linearGradient id="clk" x1="0" y1="0" x2="0" y2="1"><stop offset="0" stop-color="#3c98f0"/><stop offset="0.5" stop-color="#0c64cc"/><stop offset="1" stop-color="#0848a8"/></linearGradient><linearGradient id="bub" x1="0" y1="0" x2="0" y2="1"><stop offset="0" stop-color="#ffffff"/><stop offset="1" stop-color="#d4d4e0"/></linearGradient></defs><g shape-rendering="crispEdges"><rect x="0" y="0" width="1734" height="25" fill="#f0f0f0"/><rect x="0" y="25" width="1734" height="1" fill="#c0c0c0"/><rect x="0" y="26" width="1734" height="1" fill="#7a7a7a"/><rect x="322" y="1" width="25" height="22" fill="#f9f9f9"/><rect x="322" y="1" width="25" height="1" fill="#a0a0a0"/><rect x="322" y="1" width="1" height="22" fill="#a0a0a0"/><rect x="322" y="23" width="26" height="1" fill="#fff"/><rect x="347" y="1" width="1" height="23" fill="#fff"/><rect x="474" y="1" width="25" height="22" fill="#f9f9f9"/><rect x="474" y="1" width="25" height="1" fill="#a0a0a0"/><rect x="474" y="1" width="1" height="22" fill="#a0a0a0"/><rect x="474" y="23" width="26" height="1" fill="#fff"/><rect x="499" y="1" width="1" height="23" fill="#fff"/><rect x="502" y="1" width="25" height="22" fill="#f9f9f9"/><rect x="502" y="1" width="25" height="1" fill="#a0a0a0"/><rect x="502" y="1" width="1" height="22" fill="#a0a0a0"/><rect x="502" y="23" width="26" height="1" fill="#fff"/><rect x="527" y="1" width="1" height="23" fill="#fff"/><rect x="662" y="1" width="25" height="22" fill="#f9f9f9"/><rect x="662" y="1" width="25" height="1" fill="#a0a0a0"/><rect x="662" y="1" width="1" height="22" fill="#a0a0a0"/><rect x="662" y="23" width="26" height="1" fill="#fff"/><rect x="687" y="1" width="1" height="23" fill="#fff"/><rect x="1136" y="1" width="25" height="22" fill="#f9f9f9"/><rect x="1136" y="1" width="25" height="1" fill="#a0a0a0"/><rect x="1136" y="1" width="1" height="22" fill="#a0a0a0"/><rect x="1136" y="23" width="26" height="1" fill="#fff"/><rect x="1161" y="1" width="1" height="23" fill="#fff"/><rect x="48" y="2" width="1" height="21" fill="#a6a6a6"/><rect x="379" y="2" width="1" height="21" fill="#a6a6a6"/><rect x="469" y="2" width="1" height="21" fill="#a6a6a6"/><rect x="531" y="2" width="1" height="21" fill="#a6a6a6"/><rect x="719" y="2" width="1" height="21" fill="#a6a6a6"/><rect x="284" y="0" width="1" height="25" fill="#a0a0a0"/><rect x="285" y="0" width="1" height="25" fill="#fbfbfb"/><rect x="289" y="4" width="3" height="1" fill="#fafafa"/><rect x="288" y="3" width="3" height="1" fill="#a2a2a2"/><rect x="289" y="6" width="3" height="1" fill="#fafafa"/><rect x="288" y="5" width="3" height="1" fill="#a2a2a2"/><rect x="289" y="8" width="3" height="1" fill="#fafafa"/><rect x="288" y="7" width="3" height="1" fill="#a2a2a2"/><rect x="289" y="10" width="3" height="1" fill="#fafafa"/><rect x="288" y="9" width="3" height="1" fill="#a2a2a2"/><rect x="289" y="12" width="3" height="1" fill="#fafafa"/><rect x="288" y="11" width="3" height="1" fill="#a2a2a2"/><rect x="289" y="14" width="3" height="1" fill="#fafafa"/><rect x="288" y="13" width="3" height="1" fill="#a2a2a2"/><rect x="289" y="16" width="3" height="1" fill="#fafafa"/><rect x="288" y="15" width="3" height="1" fill="#a2a2a2"/><rect x="289" y="18" width="3" height="1" fill="#fafafa"/><rect x="288" y="17" width="3" height="1" fill="#a2a2a2"/><rect x="289" y="20" width="3" height="1" fill="#fafafa"/><rect x="288" y="19" width="3" height="1" fill="#a2a2a2"/><rect x="289" y="22" width="3" height="1" fill="#fafafa"/><rect x="288" y="21" width="3" height="1" fill="#a2a2a2"/><rect x="652" y="0" width="1" height="25" fill="#a0a0a0"/><rect x="653" y="0" width="1" height="25" fill="#fbfbfb"/><rect x="657" y="4" width="3" height="1" fill="#fafafa"/><rect x="656" y="3" width="3" height="1" fill="#a2a2a2"/><rect x="657" y="6" width="3" height="1" fill="#fafafa"/><rect x="656" y="5" width="3" height="1" fill="#a2a2a2"/><rect x="657" y="8" width="3" height="1" fill="#fafafa"/><rect x="656" y="7" width="3" height="1" fill="#a2a2a2"/><rect x="657" y="10" width="3" height="1" fill="#fafafa"/><rect x="656" y="9" width="3" height="1" fill="#a2a2a2"/><rect x="657" y="12" width="3" height="1" fill="#fafafa"/><rect x="656" y="11" width="3" height="1" fill="#a2a2a2"/><rect x="657" y="14" width="3" height="1" fill="#fafafa"/><rect x="656" y="13" width="3" height="1" fill="#a2a2a2"/><rect x="657" y="16" width="3" height="1" fill="#fafafa"/><rect x="656" y="15" width="3" height="1" fill="#a2a2a2"/><rect x="657" y="18" width="3" height="1" fill="#fafafa"/><rect x="656" y="17" width="3" height="1" fill="#a2a2a2"/><rect x="657" y="20" width="3" height="1" fill="#fafafa"/><rect x="656" y="19" width="3" height="1" fill="#a2a2a2"/><rect x="657" y="22" width="3" height="1" fill="#fafafa"/><rect x="656" y="21" width="3" height="1" fill="#a2a2a2"/><rect x="958" y="0" width="1" height="25" fill="#a0a0a0"/><rect x="959" y="0" width="1" height="25" fill="#fbfbfb"/><rect x="963" y="4" width="3" height="1" fill="#fafafa"/><rect x="962" y="3" width="3" height="1" fill="#a2a2a2"/><rect x="963" y="6" width="3" height="1" fill="#fafafa"/><rect x="962" y="5" width="3" height="1" fill="#a2a2a2"/><rect x="963" y="8" width="3" height="1" fill="#fafafa"/><rect x="962" y="7" width="3" height="1" fill="#a2a2a2"/><rect x="963" y="10" width="3" height="1" fill="#fafafa"/><rect x="962" y="9" width="3" height="1" fill="#a2a2a2"/><rect x="963" y="12" width="3" height="1" fill="#fafafa"/><rect x="962" y="11" width="3" height="1" fill="#a2a2a2"/><rect x="963" y="14" width="3" height="1" fill="#fafafa"/><rect x="962" y="13" width="3" height="1" fill="#a2a2a2"/><rect x="963" y="16" width="3" height="1" fill="#fafafa"/><rect x="962" y="15" width="3" height="1" fill="#a2a2a2"/><rect x="963" y="18" width="3" height="1" fill="#fafafa"/><rect x="962" y="17" width="3" height="1" fill="#a2a2a2"/><rect x="963" y="20" width="3" height="1" fill="#fafafa"/><rect x="962" y="19" width="3" height="1" fill="#a2a2a2"/><rect x="963" y="22" width="3" height="1" fill="#fafafa"/><rect x="962" y="21" width="3" height="1" fill="#a2a2a2"/><rect x="1219" y="0" width="1" height="25" fill="#a0a0a0"/><rect x="1220" y="0" width="1" height="25" fill="#fbfbfb"/></g><rect x="-5" y="6.5" width="15.5" height="13" rx="1" fill="#fff" stroke="#3a7cd0" stroke-width="1.1"/><path d="M0 9.5h9M0 12h9M0 14.5h9M0 17h9" stroke="#b4ccf4" stroke-width="1"/><path d="M0 9.5h1M0 17h1" stroke="#e02020" stroke-width="1.2"/><path d="M0 12h1M0 14.5h1" stroke="#202020" stroke-width="1.2"/><rect x="23.5" y="5.5" width="12" height="12.5" fill="#ece6da" stroke="#b4a890" stroke-width="1"/><path d="M26.5 7v7M25.5 9.5h2M32.5 7v6M31.5 8.5h2" stroke="#605850" stroke-width="1"/><path d="M35.5 18L40 22.2" stroke="#b08820" stroke-width="3" stroke-linecap="round"/><path d="M35.5 18L40 22.2" stroke="#e0b838" stroke-width="1.6" stroke-linecap="round"/><circle cx="31.4" cy="13.8" r="5.2" fill="#c8dcf4" fill-opacity="0.8" stroke="#6c9ce0" stroke-width="1.4"/><path d="M58.5 5.5h7.5l3.5 3.5v9.5h-11z" fill="#fdfdfd" stroke="#7c7c7c" stroke-width="1"/><path d="M66.0 5.5v3.5h3.5" fill="#e4e4e4" stroke="#7c7c7c" stroke-width="0.8"/><path d="M61 8.5h3M61 11.5h5M61 13.5h5" stroke="#686868" stroke-width="1"/><path d="M62.5 15.299999999999999h3.8v-3.6h3.8v3.6h3.8v3.8h-3.8v3.8h-3.8v-3.8h-3.8z" fill="url(#gplus)" stroke="#0c840c" stroke-width="0.9"/><path d="M125.2 15.1L132.8 20.9L140.6 14.9L140.7 13.1L132.9 18.6L125.4 13.6z" fill="#b47c18" stroke="#8c5c08" stroke-width="0.7"/><path d="M130.5 6.2L140.7 13.1L132.9 18.8L125.3 13.7C127.5 12.5 128.5 10 128.8 8.2z" fill="url(#gold)" stroke="#9c6c10" stroke-width="0.9"/><path d="M126.5 14.6L133 19.6L139.8 14.4" fill="none" stroke="#f0d070" stroke-width="0.6"/><path d="M130.8 8L136.5 12" stroke="#fff4b0" stroke-width="1" opacity="0.8"/><path d="M155.2 7L158.6 5.3H165.7V14H155.2z" fill="#3c98f0" stroke="#1c68c8" stroke-width="0.8"/><path d="M155.2 7L158.6 5.3V14H155.2z" fill="#1c7ce4"/><path d="M160.5 9.6h4M160.5 11.6h4" stroke="#d4ecff" stroke-width="1"/><path d="M156.3 20.6a3.1 3.1 0 0 1 0.2-6.2a4.1 4.1 0 0 1 7.3-0.9a3.3 3.3 0 0 1 2.6 7.1z" fill="#f0f5fe" stroke="#6484bc" stroke-width="1"/><path d="M155 19.2h12.5" stroke="#c4d4f0" stroke-width="1.2"/><path d="M189 5.2a7.7 7.7 0 0 1 3.2 14.7L189.5 20.6z" fill="#8cc48c" opacity="0.5"/><g fill="none" stroke-width="1.2"><path d="M189 5.2a7.7 7.7 0 0 0 0 15.4" stroke="#7c9ce0" opacity="0.8"/><path d="M189 7.8a5.1 5.1 0 0 0 0 10.2" stroke="#5078cc"/><path d="M189 5.2a7.7 7.7 0 0 1 3.2 14.7" stroke="#78b078"/><path d="M189 7.8a5.1 5.1 0 0 1 2.5 9.6" stroke="#64a464" opacity="0.8"/></g><circle cx="188.8" cy="12.6" r="1.9" fill="#3464c8"/><path d="M189.4 13.5V20.6" fill="none" stroke="#30a838" stroke-width="1.5"/><path d="M209 11.2h14.2l-3.6 5.6l-3.6 3.8l-4.2-4.4z" fill="#f6d848" stroke="#c89c20" stroke-width="0.8"/><ellipse cx="216.1" cy="10" rx="7.8" ry="2.5" fill="#4c9cdc" stroke="#2c74b4" stroke-width="0.8"/><path d="M212.6 9.2c0-5 7-5 7 0z" fill="#64b0ec" stroke="#2c74b4" stroke-width="0.8"/><circle cx="220.6" cy="16.8" r="3.9" fill="#dc2414" stroke="#a81408" stroke-width="0.7"/><rect x="219.3" y="15.5" width="2.7" height="2.7" fill="#fff"/><text x="77" y="16.6" font-size="12" fill="#000" textLength="36" lengthAdjust="spacingAndGlyphs" style="font-family:'Liberation Sans','Noto Sans CJK SC',sans-serif">新订单</text><text x="231" y="16.6" font-size="11.5" fill="#000" textLength="45" lengthAdjust="spacingAndGlyphs" style="font-family:'Liberation Sans','Noto Sans CJK SC',sans-serif">自动交易</text><path shape-rendering="crispEdges" d="M302 7h1v14h-1zM301 8h3v1h-3zM300 18h14v1h-14zM312 17h1v3h-1z" fill="#505050"/><path shape-rendering="crispEdges" d="M308 8h1v9h-1zM309 9h2v1h-2zM306 15h2v1h-2z" fill="#108c14"/><path shape-rendering="crispEdges" d="M330 7h1v14h-1zM329 8h3v1h-3zM328 18h14v1h-14zM340 17h1v3h-1z" fill="#505050"/><g shape-rendering="crispEdges"><rect x="336" y="5" width="1" height="12" fill="#109c18"/><rect x="334" y="7" width="5" height="8" fill="#109c18"/><rect x="335" y="8" width="3" height="6" fill="#4ce068"/><rect x="335" y="8" width="3" height="2" fill="#84f49c"/></g><path shape-rendering="crispEdges" d="M358 7h1v14h-1zM357 8h3v1h-3zM356 18h14v1h-14zM368 17h1v3h-1z" fill="#505050"/><path d="M357.3 15.8C360 14 361.2 10.6 363.2 10.6S366.5 13.2 369 13.9" stroke="#209028" stroke-width="1.4" fill="none"/><path d="M398 15.2L403.3 20.5" stroke="#a07818" stroke-width="3.4" stroke-linecap="round"/><path d="M398 15.2L403.3 20.5" stroke="#e8c440" stroke-width="1.8" stroke-linecap="round"/><circle cx="394" cy="11.2" r="5.4" fill="#d4e8fa" stroke="#3a78d4" stroke-width="1.5"/><path d="M391 11.2h6" stroke="#3070cc" stroke-width="1.8"/><path d="M394 8.2v6" stroke="#3070cc" stroke-width="1.8"/><path d="M426 15.2L431.3 20.5" stroke="#a07818" stroke-width="3.4" stroke-linecap="round"/><path d="M426 15.2L431.3 20.5" stroke="#e8c440" stroke-width="1.8" stroke-linecap="round"/><circle cx="422" cy="11.2" r="5.4" fill="#d4e8fa" stroke="#3a78d4" stroke-width="1.5"/><path d="M419 11.2h6" stroke="#3070cc" stroke-width="1.8"/><rect x="444" y="5" width="7.8" height="7.8" rx="1" fill="#4cac24" stroke="#2c8410" stroke-width="0.6"/><rect x="445.6" y="8.4" width="4.8" height="2.8" fill="#eef4ff"/><rect x="445" y="6" width="1.2" height="1.2" fill="#dfe8ff"/><rect x="452.2" y="5" width="7.8" height="7.8" rx="1" fill="#2c5cdc" stroke="#1838a8" stroke-width="0.6"/><rect x="453.8" y="8.4" width="4.8" height="2.8" fill="#eef4ff"/><rect x="453.2" y="6" width="1.2" height="1.2" fill="#dfe8ff"/><rect x="444" y="13.2" width="7.8" height="7.8" rx="1" fill="#2c5cdc" stroke="#1838a8" stroke-width="0.6"/><rect x="445.6" y="16.599999999999998" width="4.8" height="2.8" fill="#eef4ff"/><rect x="445" y="14.2" width="1.2" height="1.2" fill="#dfe8ff"/><rect x="452.2" y="13.2" width="7.8" height="7.8" rx="1" fill="#4cac24" stroke="#2c8410" stroke-width="0.6"/><rect x="453.8" y="16.599999999999998" width="4.8" height="2.8" fill="#eef4ff"/><rect x="453.2" y="14.2" width="1.2" height="1.2" fill="#dfe8ff"/><path shape-rendering="crispEdges" d="M482 7h1v14h-1zM481 8h3v1h-3zM480 18h14v1h-14zM492 17h1v3h-1z" fill="#505050"/><path d="M487.7 9.8v5.4l3.1-2.7z" fill="#8ce498" stroke="#14a424" stroke-width="1.2"/><path shape-rendering="crispEdges" d="M510 7h1v14h-1zM509 8h3v1h-3zM508 18h14v1h-14zM520 17h1v3h-1z" fill="#505050"/><rect shape-rendering="crispEdges" x="516" y="7" width="1" height="10" fill="#1868a8"/><path d="M522 12.5h-3" stroke="#d84800" stroke-width="1.4"/><path d="M517.2 12.5l2.4-2.6v5.2z" fill="#d84800"/><path d="M541.5 5.5h7.0l3.5 3.5v9.5h-10.5z" fill="#fdfdfd" stroke="#7c7c7c" stroke-width="1"/><path d="M548.5 5.5v3.5h3.5" fill="#e4e4e4" stroke="#7c7c7c" stroke-width="0.8"/><path d="M544.7 8v7.5M544.7 8.3h1.2M544.7 15.2h1.2M543.6 11.7h1.1" stroke="#4c4030" stroke-width="1" fill="none"/><path d="M545.5 14.9h3.8v-3.6h3.8v3.6h3.8v3.8h-3.8v3.8h-3.8v-3.8h-3.8z" fill="url(#gplus)" stroke="#0c840c" stroke-width="0.9"/><path d="M563 11.9h5.4l-2.7 3.1z" fill="#000"/><circle cx="586.9" cy="12.8" r="6.7" fill="#f6f9fd" stroke="url(#clk)" stroke-width="2.7"/><path d="M586.9 7.6v1M586.9 17v1M581.7 12.8h1M591.1 12.8h1M583.3 9.2l0.6 0.6M590.5 9.2l-0.6 0.6M583.3 16.4l0.6-0.6M590.5 16.4l-0.6-0.6" stroke="#8090a8" stroke-width="0.8"/><path d="M586.6 9.3v3.7l2.9 0.4" fill="none" stroke="#101418" stroke-width="1.3"/><path d="M586 15.6h2" stroke="#58a0f0" stroke-width="0.9"/><path d="M602 11.9h5.4l-2.7 3.1z" fill="#000"/><rect x="618.5" y="6.5" width="15" height="13.2" fill="#fff" stroke="#2c6cbc" stroke-width="1.1"/><rect x="619" y="7" width="14" height="2" fill="#4c8cdc"/><path d="M620 7.6h5" stroke="#c8dcf8" stroke-width="0.8"/><path d="M619 14.3h14" stroke="#5c94dc" stroke-width="1"/><path d="M620.2 12.4h1.6l1.5-1h1.6l1.4-0.9l1.7 1h1.6l1.7-1" fill="none" stroke="#901808" stroke-width="1.3"/><path d="M621 17.6h1.5l1.5-0.9l1.7 0.9l2.2-2.2l1.4 0.3l1.6 2" fill="none" stroke="#108c20" stroke-width="1.3"/><path d="M641 11.9h5.4l-2.7 3.1z" fill="#000"/><path d="M670.2 6.2V17.6L673 15L675.1 19.8L677.2 18.9L675.2 14.3L678.9 14.1z" fill="#404040"/><path d="M695 13.5h6.5M703.5 13.5h6.5M702.5 6v6.5M702.5 14.5v6.5" stroke="#505050" stroke-width="1.2"/><rect x="702" y="13" width="1" height="1" fill="#505050"/><path d="M736.5 7v13" stroke="#505050" stroke-width="1.4"/><path d="M759 13.5h12.2" stroke="#505050" stroke-width="1.4"/><path d="M786.6 19.9L799.1 8" stroke="#505050" stroke-width="1.4"/><path d="M812.9 14.8L825.3 5.8M814.3 19.4L827.4 10.9M816.5 12.2L817 17.6M819.5 10L820 15.6M822.5 7.8L823 13.7M825.3 4.6L825 12.4" stroke="#505050" stroke-width="1.1" fill="none"/><text x="823.8" y="22.2" font-size="7" fill="#303030" font-weight="bold" font-family="Liberation Sans, sans-serif">E</text><path shape-rendering="crispEdges" d="M842 6h1v1h-1zM844 6h1v1h-1zM846 6h1v1h-1zM848 6h1v1h-1zM850 6h1v1h-1zM852 6h1v1h-1zM854 6h1v1h-1zM842 9h1v1h-1zM844 9h1v1h-1zM846 9h1v1h-1zM848 9h1v1h-1zM850 9h1v1h-1zM852 9h1v1h-1zM854 9h1v1h-1zM842 13h1v1h-1zM844 13h1v1h-1zM846 13h1v1h-1zM848 13h1v1h-1zM850 13h1v1h-1zM852 13h1v1h-1zM854 13h1v1h-1zM842 17h1v1h-1zM844 17h1v1h-1zM846 17h1v1h-1zM848 17h1v1h-1zM850 17h1v1h-1z" fill="#505050"/><text x="851.6" y="22.2" font-size="7" fill="#303030" font-weight="bold" font-family="Liberation Sans, sans-serif">F</text><text x="872.8" y="18" font-size="12.5" fill="#505050" textLength="8" lengthAdjust="spacingAndGlyphs" font-family="Liberation Sans, sans-serif" stroke="#505050" stroke-width="0.25">A</text><path shape-rendering="crispEdges" d="M899 6h1v1h-1zM899 19h1v1h-1zM901 6h1v1h-1zM901 19h1v1h-1zM903 6h1v1h-1zM903 19h1v1h-1zM905 6h1v1h-1zM905 19h1v1h-1zM907 6h1v1h-1zM907 19h1v1h-1zM909 6h1v1h-1zM909 19h1v1h-1zM911 6h1v1h-1zM911 19h1v1h-1zM899 8h1v1h-1zM911 8h1v1h-1zM899 10h1v1h-1zM911 10h1v1h-1zM899 12h1v1h-1zM911 12h1v1h-1zM899 14h1v1h-1zM911 14h1v1h-1zM899 16h1v1h-1zM911 16h1v1h-1zM899 18h1v1h-1zM911 18h1v1h-1z" fill="#505050"/><text x="900.9" y="18" font-size="11.5" fill="#505050" textLength="7.6" lengthAdjust="spacingAndGlyphs" font-family="Liberation Sans, sans-serif" stroke="#505050" stroke-width="0.25">T</text><path d="M929.6 6.4l3.3 2.8l-3.3 2.6l-3.3-2.6z" fill="#505050"/><path d="M936.6 14.6l3.5 2.6l-3.5 2.8l-3.5-2.8z" fill="#505050"/><path d="M928.6 14.6l2.4 2.2l4.6-5.8" fill="none" stroke="#505050" stroke-width="1.3"/><path d="M947 11.9h5.4l-2.7 3.1z" fill="#000"/><g font-family="Liberation Sans, sans-serif" font-size="10" fill="#484848" text-anchor="middle"><text x="980.2" y="17.1" textLength="12.2" lengthAdjust="spacingAndGlyphs">M1</text><text x="1008.2" y="17.1" textLength="12.6" lengthAdjust="spacingAndGlyphs">M5</text><text x="1036" y="17.1" textLength="18.4" lengthAdjust="spacingAndGlyphs">M15</text><text x="1064.5" y="17.1" textLength="18.6" lengthAdjust="spacingAndGlyphs">M30</text><text x="1092" y="17.1" textLength="12" lengthAdjust="spacingAndGlyphs">H1</text><text x="1120" y="17.1" textLength="12.4" lengthAdjust="spacingAndGlyphs">H4</text><text x="1148.2" y="17.1" textLength="12" lengthAdjust="spacingAndGlyphs">D1</text><text x="1177" y="17.1" textLength="14.4" lengthAdjust="spacingAndGlyphs">W1</text><text x="1204.2" y="17.1" textLength="14.8" lengthAdjust="spacingAndGlyphs">MN</text></g><path d="M1686.6 13.4L1681.8 17.8" stroke="#2a5cd4" stroke-width="2.6" stroke-linecap="round"/><circle cx="1689.4" cy="10.4" r="4.1" fill="#f4f4f4" stroke="#2a62dc" stroke-width="1.3"/><path d="M1722.3 5.3c4 0 6.4 2.2 6.4 4.8c0 2-1.4 3.6-3.6 4.3l0.6 2.2l-2.6-1.8c-4.6 0.2-7.3-2-7.3-4.7c0-2.6 2.5-4.8 6.5-4.8z" fill="url(#bub)" stroke="#8c8c8c" stroke-width="0.9"/><path d="M1713.3 10.4c3.2 0 5.2 1.8 5.2 3.8s-2 3.8-5.2 3.8l-2.6 1.9l0.5-2.3c-1.9-0.6-3-1.9-3-3.4c0-2 2-3.8 5.1-3.8z" fill="url(#bub)" stroke="#8c8c8c" stroke-width="0.9"/></svg>
</body></html>
